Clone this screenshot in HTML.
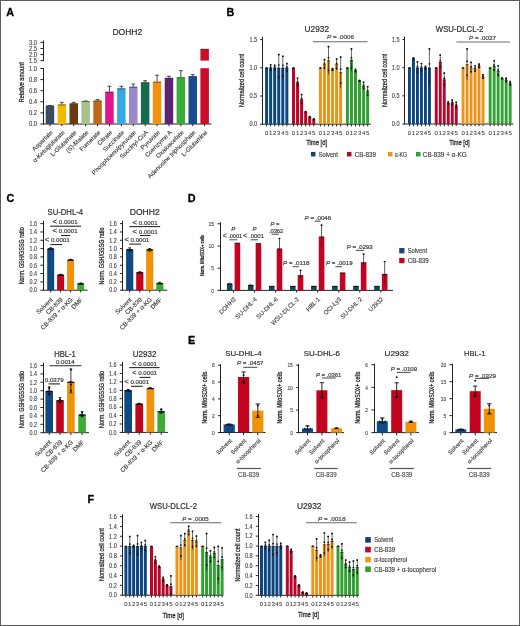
<!DOCTYPE html>
<html><head><meta charset="utf-8"><title>Figure</title>
<style>
html,body{margin:0;padding:0;background:#fff;}
body{width:520px;height:626px;overflow:hidden;}
svg{display:block;will-change:transform;font-family:"Liberation Sans",sans-serif;}
</style></head><body>
<svg width="520" height="626" viewBox="0 0 520 626">
<rect x="0" y="0" width="520" height="626" fill="#fff"/>
<text stroke="#000" stroke-width="0.3" x="6.2" y="15.8" font-size="10.8" fill="#000" font-weight="bold">A</text>
<text stroke="#333" stroke-width="0.22" x="112.5" y="34.8" font-size="8.4" fill="#333" textLength="29.7" lengthAdjust="spacingAndGlyphs">DOHH2</text>
<line x1="43.5" y1="68.2" x2="43.5" y2="124.5" stroke="#222" stroke-width="1"/>
<line x1="40.4" y1="124" x2="43.4" y2="124" stroke="#222" stroke-width="1"/>
<text stroke="#444" stroke-width="0.12" x="37.1" y="126.29" font-size="6.4" text-anchor="end" fill="#444" textLength="8.13" lengthAdjust="spacingAndGlyphs">0.0</text>
<line x1="40.4" y1="112.9" x2="43.4" y2="112.9" stroke="#222" stroke-width="1"/>
<text stroke="#444" stroke-width="0.12" x="37.1" y="115.19" font-size="6.4" text-anchor="end" fill="#444" textLength="8.13" lengthAdjust="spacingAndGlyphs">0.2</text>
<line x1="40.4" y1="101.8" x2="43.4" y2="101.8" stroke="#222" stroke-width="1"/>
<text stroke="#444" stroke-width="0.12" x="37.1" y="104.09" font-size="6.4" text-anchor="end" fill="#444" textLength="8.13" lengthAdjust="spacingAndGlyphs">0.4</text>
<line x1="40.4" y1="90.7" x2="43.4" y2="90.7" stroke="#222" stroke-width="1"/>
<text stroke="#444" stroke-width="0.12" x="37.1" y="92.99" font-size="6.4" text-anchor="end" fill="#444" textLength="8.13" lengthAdjust="spacingAndGlyphs">0.6</text>
<line x1="40.4" y1="79.6" x2="43.4" y2="79.6" stroke="#222" stroke-width="1"/>
<text stroke="#444" stroke-width="0.12" x="37.1" y="81.89" font-size="6.4" text-anchor="end" fill="#444" textLength="8.13" lengthAdjust="spacingAndGlyphs">0.8</text>
<line x1="40.4" y1="68.5" x2="43.4" y2="68.5" stroke="#222" stroke-width="1"/>
<text stroke="#444" stroke-width="0.12" x="37.1" y="70.79" font-size="6.4" text-anchor="end" fill="#444" textLength="8.13" lengthAdjust="spacingAndGlyphs">1.0</text>
<line x1="43.5" y1="40.4" x2="43.5" y2="61.1" stroke="#222" stroke-width="1"/>
<line x1="40.4" y1="60.6" x2="43.4" y2="60.6" stroke="#222" stroke-width="1"/>
<text stroke="#444" stroke-width="0.12" x="37.1" y="62.89" font-size="6.4" text-anchor="end" fill="#444" textLength="8.13" lengthAdjust="spacingAndGlyphs">1.5</text>
<line x1="40.4" y1="54.52" x2="43.4" y2="54.52" stroke="#222" stroke-width="1"/>
<text stroke="#444" stroke-width="0.12" x="37.1" y="56.82" font-size="6.4" text-anchor="end" fill="#444" textLength="8.13" lengthAdjust="spacingAndGlyphs">2.0</text>
<line x1="40.4" y1="48.45" x2="43.4" y2="48.45" stroke="#222" stroke-width="1"/>
<text stroke="#444" stroke-width="0.12" x="37.1" y="50.74" font-size="6.4" text-anchor="end" fill="#444" textLength="8.13" lengthAdjust="spacingAndGlyphs">2.5</text>
<line x1="40.4" y1="42.38" x2="43.4" y2="42.38" stroke="#222" stroke-width="1"/>
<text stroke="#444" stroke-width="0.12" x="37.1" y="44.67" font-size="6.4" text-anchor="end" fill="#444" textLength="8.13" lengthAdjust="spacingAndGlyphs">3.0</text>
<line x1="43.4" y1="124" x2="211.5" y2="124" stroke="#222" stroke-width="1"/>
<text stroke="#2a2a2a" stroke-width="0.3" transform="translate(23.94,82.2) rotate(-90)" font-size="7.6" text-anchor="middle" fill="#2a2a2a" textLength="40" lengthAdjust="spacingAndGlyphs">Relative amount</text>
<line x1="49.95" y1="105.69" x2="49.95" y2="105.41" stroke="#333" stroke-width="0.9"/>
<line x1="48.05" y1="105.41" x2="51.85" y2="105.41" stroke="#333" stroke-width="0.9"/>
<rect x="45.7" y="105.69" width="8.5" height="18.31" fill="#3c4a66"/>
<line x1="46" y1="106.03" x2="53.9" y2="106.03" stroke="#333" stroke-width="0.7"/>
<line x1="49.95" y1="124" x2="49.95" y2="126.2" stroke="#222" stroke-width="1"/>
<text stroke="#3a3a3a" stroke-width="0.12" transform="translate(53.25,132.8) rotate(-45)" font-size="6.2" text-anchor="end" fill="#3a3a3a">Aspartate</text>
<line x1="61.85" y1="104.58" x2="61.85" y2="102.36" stroke="#333" stroke-width="0.9"/>
<line x1="59.95" y1="102.36" x2="63.75" y2="102.36" stroke="#333" stroke-width="0.9"/>
<rect x="57.6" y="104.58" width="8.5" height="19.42" fill="#f5b800"/>
<line x1="57.9" y1="104.92" x2="65.8" y2="104.92" stroke="#333" stroke-width="0.7"/>
<line x1="61.85" y1="124" x2="61.85" y2="126.2" stroke="#222" stroke-width="1"/>
<text stroke="#3a3a3a" stroke-width="0.12" transform="translate(65.15,132.8) rotate(-45)" font-size="6.2" text-anchor="end" fill="#3a3a3a">&#945;-Ketoglutarate</text>
<line x1="73.75" y1="103.47" x2="73.75" y2="102.36" stroke="#333" stroke-width="0.9"/>
<line x1="71.85" y1="102.36" x2="75.65" y2="102.36" stroke="#333" stroke-width="0.9"/>
<rect x="69.5" y="103.47" width="8.5" height="20.53" fill="#6a3a12"/>
<line x1="69.8" y1="103.81" x2="77.7" y2="103.81" stroke="#333" stroke-width="0.7"/>
<line x1="73.75" y1="124" x2="73.75" y2="126.2" stroke="#222" stroke-width="1"/>
<text stroke="#3a3a3a" stroke-width="0.12" transform="translate(77.05,132.8) rotate(-45)" font-size="6.2" text-anchor="end" fill="#3a3a3a">L-Glutamate</text>
<line x1="85.65" y1="101.25" x2="85.65" y2="100.97" stroke="#333" stroke-width="0.9"/>
<line x1="83.75" y1="100.97" x2="87.55" y2="100.97" stroke="#333" stroke-width="0.9"/>
<rect x="81.4" y="101.25" width="8.5" height="22.75" fill="#a6c48a"/>
<line x1="81.7" y1="101.59" x2="89.6" y2="101.59" stroke="#333" stroke-width="0.7"/>
<line x1="85.65" y1="124" x2="85.65" y2="126.2" stroke="#222" stroke-width="1"/>
<text stroke="#3a3a3a" stroke-width="0.12" transform="translate(88.95,132.8) rotate(-45)" font-size="6.2" text-anchor="end" fill="#3a3a3a">(S)-Malate</text>
<line x1="97.55" y1="100.69" x2="97.55" y2="99.58" stroke="#333" stroke-width="0.9"/>
<line x1="95.65" y1="99.58" x2="99.45" y2="99.58" stroke="#333" stroke-width="0.9"/>
<rect x="93.3" y="100.69" width="8.5" height="23.31" fill="#c0681a"/>
<line x1="93.6" y1="101.04" x2="101.5" y2="101.04" stroke="#333" stroke-width="0.7"/>
<line x1="97.55" y1="124" x2="97.55" y2="126.2" stroke="#222" stroke-width="1"/>
<text stroke="#3a3a3a" stroke-width="0.12" transform="translate(100.85,132.8) rotate(-45)" font-size="6.2" text-anchor="end" fill="#3a3a3a">Fumarate</text>
<line x1="109.45" y1="91.81" x2="109.45" y2="86.26" stroke="#333" stroke-width="0.9"/>
<line x1="107.55" y1="86.26" x2="111.35" y2="86.26" stroke="#333" stroke-width="0.9"/>
<rect x="105.2" y="91.81" width="8.5" height="32.19" fill="#e0168a"/>
<line x1="105.5" y1="92.16" x2="113.4" y2="92.16" stroke="#333" stroke-width="0.7"/>
<line x1="109.45" y1="124" x2="109.45" y2="126.2" stroke="#222" stroke-width="1"/>
<text stroke="#3a3a3a" stroke-width="0.12" transform="translate(112.75,132.8) rotate(-45)" font-size="6.2" text-anchor="end" fill="#3a3a3a">Citrate</text>
<line x1="121.35" y1="88.48" x2="121.35" y2="86.26" stroke="#333" stroke-width="0.9"/>
<line x1="119.45" y1="86.26" x2="123.25" y2="86.26" stroke="#333" stroke-width="0.9"/>
<rect x="117.1" y="88.48" width="8.5" height="35.52" fill="#38a8e0"/>
<line x1="117.4" y1="88.83" x2="125.3" y2="88.83" stroke="#333" stroke-width="0.7"/>
<line x1="121.35" y1="124" x2="121.35" y2="126.2" stroke="#222" stroke-width="1"/>
<text stroke="#3a3a3a" stroke-width="0.12" transform="translate(124.65,132.8) rotate(-45)" font-size="6.2" text-anchor="end" fill="#3a3a3a">Succinate</text>
<line x1="133.25" y1="86.81" x2="133.25" y2="84.04" stroke="#333" stroke-width="0.9"/>
<line x1="131.35" y1="84.04" x2="135.15" y2="84.04" stroke="#333" stroke-width="0.9"/>
<rect x="129" y="86.81" width="8.5" height="37.19" fill="#9a88c8"/>
<line x1="129.3" y1="87.16" x2="137.2" y2="87.16" stroke="#333" stroke-width="0.7"/>
<line x1="133.25" y1="124" x2="133.25" y2="126.2" stroke="#222" stroke-width="1"/>
<text stroke="#3a3a3a" stroke-width="0.12" transform="translate(136.55,132.8) rotate(-45)" font-size="6.2" text-anchor="end" fill="#3a3a3a">Phosphoenolpyruvate</text>
<line x1="145.15" y1="82.38" x2="145.15" y2="80.71" stroke="#333" stroke-width="0.9"/>
<line x1="143.25" y1="80.71" x2="147.05" y2="80.71" stroke="#333" stroke-width="0.9"/>
<rect x="140.9" y="82.38" width="8.5" height="41.62" fill="#176b50"/>
<line x1="141.2" y1="82.72" x2="149.1" y2="82.72" stroke="#333" stroke-width="0.7"/>
<line x1="145.15" y1="124" x2="145.15" y2="126.2" stroke="#222" stroke-width="1"/>
<text stroke="#3a3a3a" stroke-width="0.12" transform="translate(148.45,132.8) rotate(-45)" font-size="6.2" text-anchor="end" fill="#3a3a3a">Succinyl-CoA</text>
<line x1="157.05" y1="81.82" x2="157.05" y2="75.16" stroke="#333" stroke-width="0.9"/>
<line x1="155.15" y1="75.16" x2="158.95" y2="75.16" stroke="#333" stroke-width="0.9"/>
<rect x="152.8" y="81.82" width="8.5" height="42.18" fill="#f59010"/>
<line x1="153.1" y1="82.17" x2="161" y2="82.17" stroke="#333" stroke-width="0.7"/>
<line x1="157.05" y1="124" x2="157.05" y2="126.2" stroke="#222" stroke-width="1"/>
<text stroke="#3a3a3a" stroke-width="0.12" transform="translate(160.35,132.8) rotate(-45)" font-size="6.2" text-anchor="end" fill="#3a3a3a">Pyruvate</text>
<line x1="168.95" y1="77.94" x2="168.95" y2="76.27" stroke="#333" stroke-width="0.9"/>
<line x1="167.05" y1="76.27" x2="170.85" y2="76.27" stroke="#333" stroke-width="0.9"/>
<rect x="164.7" y="77.94" width="8.5" height="46.06" fill="#5c2270"/>
<line x1="165" y1="78.28" x2="172.9" y2="78.28" stroke="#333" stroke-width="0.7"/>
<line x1="168.95" y1="124" x2="168.95" y2="126.2" stroke="#222" stroke-width="1"/>
<text stroke="#3a3a3a" stroke-width="0.12" transform="translate(172.25,132.8) rotate(-45)" font-size="6.2" text-anchor="end" fill="#3a3a3a">Coenzyme A</text>
<line x1="180.85" y1="77.38" x2="180.85" y2="70.72" stroke="#333" stroke-width="0.9"/>
<line x1="178.95" y1="70.72" x2="182.75" y2="70.72" stroke="#333" stroke-width="0.9"/>
<rect x="176.6" y="77.38" width="8.5" height="46.62" fill="#3aaa3a"/>
<line x1="176.9" y1="77.73" x2="184.8" y2="77.73" stroke="#333" stroke-width="0.7"/>
<line x1="180.85" y1="124" x2="180.85" y2="126.2" stroke="#222" stroke-width="1"/>
<text stroke="#3a3a3a" stroke-width="0.12" transform="translate(184.15,132.8) rotate(-45)" font-size="6.2" text-anchor="end" fill="#3a3a3a">Oxaloacetate</text>
<line x1="192.75" y1="76.27" x2="192.75" y2="74.6" stroke="#333" stroke-width="0.9"/>
<line x1="190.85" y1="74.6" x2="194.65" y2="74.6" stroke="#333" stroke-width="0.9"/>
<rect x="188.5" y="76.27" width="8.5" height="47.73" fill="#1a4c8c"/>
<line x1="188.8" y1="76.62" x2="196.7" y2="76.62" stroke="#333" stroke-width="0.7"/>
<line x1="192.75" y1="124" x2="192.75" y2="126.2" stroke="#222" stroke-width="1"/>
<text stroke="#3a3a3a" stroke-width="0.12" transform="translate(196.05,132.8) rotate(-45)" font-size="6.2" text-anchor="end" fill="#3a3a3a">Adenosine triphosphate</text>
<rect x="200.4" y="68.2" width="8.5" height="55.8" fill="#cc0a2a"/>
<rect x="200.4" y="49.06" width="8.5" height="11.54" fill="#cc0a2a"/>
<line x1="200.9" y1="49.26" x2="208.4" y2="49.26" stroke="#333" stroke-width="0.8"/>
<line x1="204.65" y1="124" x2="204.65" y2="126.2" stroke="#222" stroke-width="1"/>
<text stroke="#3a3a3a" stroke-width="0.12" transform="translate(207.95,132.8) rotate(-45)" font-size="6.2" text-anchor="end" fill="#3a3a3a">L-Glutamine</text>
<text stroke="#000" stroke-width="0.3" x="226.6" y="15.8" font-size="10.8" fill="#000" font-weight="bold">B</text>
<line x1="262.5" y1="36.7" x2="262.5" y2="124.7" stroke="#222" stroke-width="1"/>
<line x1="260.1" y1="124.2" x2="262.5" y2="124.2" stroke="#222" stroke-width="1"/>
<text stroke="#444" stroke-width="0.12" x="257.2" y="126.49" font-size="6.4" text-anchor="end" fill="#444" textLength="7.78" lengthAdjust="spacingAndGlyphs">0.0</text>
<line x1="260.1" y1="96" x2="262.5" y2="96" stroke="#222" stroke-width="1"/>
<text stroke="#444" stroke-width="0.12" x="257.2" y="98.29" font-size="6.4" text-anchor="end" fill="#444" textLength="7.78" lengthAdjust="spacingAndGlyphs">0.5</text>
<line x1="260.1" y1="67.8" x2="262.5" y2="67.8" stroke="#222" stroke-width="1"/>
<text stroke="#444" stroke-width="0.12" x="257.2" y="70.09" font-size="6.4" text-anchor="end" fill="#444" textLength="7.78" lengthAdjust="spacingAndGlyphs">1.0</text>
<line x1="260.1" y1="39.6" x2="262.5" y2="39.6" stroke="#222" stroke-width="1"/>
<text stroke="#444" stroke-width="0.12" x="257.2" y="41.89" font-size="6.4" text-anchor="end" fill="#444" textLength="7.78" lengthAdjust="spacingAndGlyphs">1.5</text>
<line x1="262.5" y1="124.2" x2="370.8" y2="124.2" stroke="#222" stroke-width="1"/>
<rect x="265.1" y="67.8" width="3" height="56.4" fill="#0c4680"/>
<circle cx="266.6" cy="68" r="0.9" fill="#111"/>
<line x1="265.25" y1="68.15" x2="267.95" y2="68.15" stroke="#1a1a1a" stroke-width="0.7"/>
<line x1="266.6" y1="124.2" x2="266.6" y2="126.4" stroke="#222" stroke-width="1"/>
<text stroke="#3a3a3a" stroke-width="0.08" x="266.6" y="134.6" font-size="6" text-anchor="middle" fill="#3a3a3a">0</text>
<rect x="269.15" y="67.8" width="3" height="56.4" fill="#0c4680"/>
<line x1="270.65" y1="71.18" x2="270.65" y2="64.42" stroke="#2a2a2a" stroke-width="0.7"/>
<line x1="269.85" y1="64.42" x2="271.45" y2="64.42" stroke="#1a1a1a" stroke-width="0.6"/>
<circle cx="270.65" cy="64.82" r="0.9" fill="#111"/>
<circle cx="270.65" cy="70.17" r="0.9" fill="#111"/>
<circle cx="270.65" cy="67.12" r="0.9" fill="#111"/>
<line x1="269.3" y1="68.15" x2="272" y2="68.15" stroke="#1a1a1a" stroke-width="0.7"/>
<line x1="270.65" y1="124.2" x2="270.65" y2="126.4" stroke="#222" stroke-width="1"/>
<text stroke="#3a3a3a" stroke-width="0.08" x="270.65" y="134.6" font-size="6" text-anchor="middle" fill="#3a3a3a">1</text>
<rect x="273.2" y="67.8" width="3" height="56.4" fill="#0c4680"/>
<line x1="274.7" y1="70.62" x2="274.7" y2="64.98" stroke="#2a2a2a" stroke-width="0.7"/>
<line x1="273.9" y1="64.98" x2="275.5" y2="64.98" stroke="#1a1a1a" stroke-width="0.6"/>
<circle cx="274.7" cy="65.38" r="0.9" fill="#111"/>
<circle cx="274.7" cy="69.77" r="0.9" fill="#111"/>
<circle cx="274.7" cy="67.24" r="0.9" fill="#111"/>
<line x1="273.35" y1="68.15" x2="276.05" y2="68.15" stroke="#1a1a1a" stroke-width="0.7"/>
<line x1="274.7" y1="124.2" x2="274.7" y2="126.4" stroke="#222" stroke-width="1"/>
<text stroke="#3a3a3a" stroke-width="0.08" x="274.7" y="134.6" font-size="6" text-anchor="middle" fill="#3a3a3a">2</text>
<rect x="277.25" y="67.8" width="3" height="56.4" fill="#0c4680"/>
<line x1="278.75" y1="81.34" x2="278.75" y2="54.26" stroke="#2a2a2a" stroke-width="0.7"/>
<line x1="277.95" y1="54.26" x2="279.55" y2="54.26" stroke="#1a1a1a" stroke-width="0.6"/>
<circle cx="278.75" cy="54.66" r="0.9" fill="#111"/>
<circle cx="278.75" cy="77.28" r="0.9" fill="#111"/>
<circle cx="278.75" cy="65.09" r="0.9" fill="#111"/>
<line x1="277.4" y1="68.15" x2="280.1" y2="68.15" stroke="#1a1a1a" stroke-width="0.7"/>
<line x1="278.75" y1="124.2" x2="278.75" y2="126.4" stroke="#222" stroke-width="1"/>
<text stroke="#3a3a3a" stroke-width="0.08" x="278.75" y="134.6" font-size="6" text-anchor="middle" fill="#3a3a3a">3</text>
<rect x="281.3" y="67.8" width="3" height="56.4" fill="#0c4680"/>
<line x1="282.8" y1="79.64" x2="282.8" y2="55.96" stroke="#2a2a2a" stroke-width="0.7"/>
<line x1="282" y1="55.96" x2="283.6" y2="55.96" stroke="#1a1a1a" stroke-width="0.6"/>
<circle cx="282.8" cy="56.36" r="0.9" fill="#111"/>
<circle cx="282.8" cy="76.09" r="0.9" fill="#111"/>
<circle cx="282.8" cy="65.43" r="0.9" fill="#111"/>
<line x1="281.45" y1="68.15" x2="284.15" y2="68.15" stroke="#1a1a1a" stroke-width="0.7"/>
<line x1="282.8" y1="124.2" x2="282.8" y2="126.4" stroke="#222" stroke-width="1"/>
<text stroke="#3a3a3a" stroke-width="0.08" x="282.8" y="134.6" font-size="6" text-anchor="middle" fill="#3a3a3a">4</text>
<rect x="285.35" y="67.8" width="3" height="56.4" fill="#0c4680"/>
<line x1="286.85" y1="72.31" x2="286.85" y2="63.29" stroke="#2a2a2a" stroke-width="0.7"/>
<line x1="286.05" y1="63.29" x2="287.65" y2="63.29" stroke="#1a1a1a" stroke-width="0.6"/>
<circle cx="286.85" cy="63.69" r="0.9" fill="#111"/>
<circle cx="286.85" cy="70.96" r="0.9" fill="#111"/>
<circle cx="286.85" cy="66.9" r="0.9" fill="#111"/>
<line x1="285.5" y1="68.15" x2="288.2" y2="68.15" stroke="#1a1a1a" stroke-width="0.7"/>
<line x1="286.85" y1="124.2" x2="286.85" y2="126.4" stroke="#222" stroke-width="1"/>
<text stroke="#3a3a3a" stroke-width="0.08" x="286.85" y="134.6" font-size="6" text-anchor="middle" fill="#3a3a3a">5</text>
<rect x="292" y="67.8" width="3" height="56.4" fill="#b8072a"/>
<circle cx="293.5" cy="68" r="0.9" fill="#111"/>
<line x1="292.15" y1="68.15" x2="294.85" y2="68.15" stroke="#1a1a1a" stroke-width="0.7"/>
<line x1="293.5" y1="124.2" x2="293.5" y2="126.4" stroke="#222" stroke-width="1"/>
<text stroke="#3a3a3a" stroke-width="0.08" x="293.5" y="134.6" font-size="6" text-anchor="middle" fill="#3a3a3a">0</text>
<rect x="296.05" y="82.46" width="3" height="41.74" fill="#b8072a"/>
<line x1="297.55" y1="86.98" x2="297.55" y2="77.95" stroke="#2a2a2a" stroke-width="0.7"/>
<line x1="296.75" y1="77.95" x2="298.35" y2="77.95" stroke="#1a1a1a" stroke-width="0.6"/>
<circle cx="297.55" cy="78.35" r="0.9" fill="#111"/>
<circle cx="297.55" cy="85.62" r="0.9" fill="#111"/>
<circle cx="297.55" cy="81.56" r="0.9" fill="#111"/>
<line x1="296.2" y1="82.81" x2="298.9" y2="82.81" stroke="#1a1a1a" stroke-width="0.7"/>
<line x1="297.55" y1="124.2" x2="297.55" y2="126.4" stroke="#222" stroke-width="1"/>
<text stroke="#3a3a3a" stroke-width="0.08" x="297.55" y="134.6" font-size="6" text-anchor="middle" fill="#3a3a3a">1</text>
<rect x="300.1" y="99.38" width="3" height="24.82" fill="#b8072a"/>
<line x1="301.6" y1="104.46" x2="301.6" y2="94.31" stroke="#2a2a2a" stroke-width="0.7"/>
<line x1="300.8" y1="94.31" x2="302.4" y2="94.31" stroke="#1a1a1a" stroke-width="0.6"/>
<circle cx="301.6" cy="94.71" r="0.9" fill="#111"/>
<circle cx="301.6" cy="102.94" r="0.9" fill="#111"/>
<circle cx="301.6" cy="98.37" r="0.9" fill="#111"/>
<line x1="300.25" y1="99.73" x2="302.95" y2="99.73" stroke="#1a1a1a" stroke-width="0.7"/>
<line x1="301.6" y1="124.2" x2="301.6" y2="126.4" stroke="#222" stroke-width="1"/>
<text stroke="#3a3a3a" stroke-width="0.08" x="301.6" y="134.6" font-size="6" text-anchor="middle" fill="#3a3a3a">2</text>
<rect x="304.15" y="111.51" width="3" height="12.69" fill="#b8072a"/>
<circle cx="305.65" cy="111.71" r="0.9" fill="#111"/>
<line x1="304.3" y1="111.86" x2="307" y2="111.86" stroke="#1a1a1a" stroke-width="0.7"/>
<line x1="305.65" y1="124.2" x2="305.65" y2="126.4" stroke="#222" stroke-width="1"/>
<text stroke="#3a3a3a" stroke-width="0.08" x="305.65" y="134.6" font-size="6" text-anchor="middle" fill="#3a3a3a">3</text>
<rect x="308.2" y="116.92" width="3" height="7.28" fill="#b8072a"/>
<line x1="309.7" y1="117.54" x2="309.7" y2="116.3" stroke="#2a2a2a" stroke-width="0.7"/>
<line x1="308.9" y1="116.3" x2="310.5" y2="116.3" stroke="#1a1a1a" stroke-width="0.6"/>
<circle cx="309.7" cy="116.7" r="0.9" fill="#111"/>
<circle cx="309.7" cy="117.36" r="0.9" fill="#111"/>
<circle cx="309.7" cy="116.8" r="0.9" fill="#111"/>
<line x1="308.35" y1="117.27" x2="311.05" y2="117.27" stroke="#1a1a1a" stroke-width="0.7"/>
<line x1="309.7" y1="124.2" x2="309.7" y2="126.4" stroke="#222" stroke-width="1"/>
<text stroke="#3a3a3a" stroke-width="0.08" x="309.7" y="134.6" font-size="6" text-anchor="middle" fill="#3a3a3a">4</text>
<rect x="312.25" y="119.24" width="3" height="4.96" fill="#b8072a"/>
<line x1="313.75" y1="119.91" x2="313.75" y2="118.56" stroke="#2a2a2a" stroke-width="0.7"/>
<line x1="312.95" y1="118.56" x2="314.55" y2="118.56" stroke="#1a1a1a" stroke-width="0.6"/>
<circle cx="313.75" cy="118.96" r="0.9" fill="#111"/>
<circle cx="313.75" cy="119.71" r="0.9" fill="#111"/>
<circle cx="313.75" cy="119.1" r="0.9" fill="#111"/>
<line x1="312.4" y1="119.59" x2="315.1" y2="119.59" stroke="#1a1a1a" stroke-width="0.7"/>
<line x1="313.75" y1="124.2" x2="313.75" y2="126.4" stroke="#222" stroke-width="1"/>
<text stroke="#3a3a3a" stroke-width="0.08" x="313.75" y="134.6" font-size="6" text-anchor="middle" fill="#3a3a3a">5</text>
<rect x="318.9" y="67.8" width="3" height="56.4" fill="#ee9418"/>
<circle cx="320.4" cy="68" r="0.9" fill="#111"/>
<line x1="319.05" y1="68.15" x2="321.75" y2="68.15" stroke="#1a1a1a" stroke-width="0.7"/>
<line x1="320.4" y1="124.2" x2="320.4" y2="126.4" stroke="#222" stroke-width="1"/>
<text stroke="#3a3a3a" stroke-width="0.08" x="320.4" y="134.6" font-size="6" text-anchor="middle" fill="#3a3a3a">0</text>
<rect x="322.95" y="64.42" width="3" height="59.78" fill="#ee9418"/>
<line x1="324.45" y1="69.49" x2="324.45" y2="59.34" stroke="#2a2a2a" stroke-width="0.7"/>
<line x1="323.65" y1="59.34" x2="325.25" y2="59.34" stroke="#1a1a1a" stroke-width="0.6"/>
<circle cx="324.45" cy="59.74" r="0.9" fill="#111"/>
<circle cx="324.45" cy="67.97" r="0.9" fill="#111"/>
<circle cx="324.45" cy="63.4" r="0.9" fill="#111"/>
<line x1="323.1" y1="64.77" x2="325.8" y2="64.77" stroke="#1a1a1a" stroke-width="0.7"/>
<line x1="324.45" y1="124.2" x2="324.45" y2="126.4" stroke="#222" stroke-width="1"/>
<text stroke="#3a3a3a" stroke-width="0.08" x="324.45" y="134.6" font-size="6" text-anchor="middle" fill="#3a3a3a">1</text>
<rect x="327" y="60.47" width="3" height="63.73" fill="#ee9418"/>
<line x1="328.5" y1="74.57" x2="328.5" y2="46.37" stroke="#2a2a2a" stroke-width="0.7"/>
<line x1="327.7" y1="46.37" x2="329.3" y2="46.37" stroke="#1a1a1a" stroke-width="0.6"/>
<circle cx="328.5" cy="46.77" r="0.9" fill="#111"/>
<circle cx="328.5" cy="70.34" r="0.9" fill="#111"/>
<circle cx="328.5" cy="57.65" r="0.9" fill="#111"/>
<line x1="327.15" y1="60.82" x2="329.85" y2="60.82" stroke="#1a1a1a" stroke-width="0.7"/>
<line x1="328.5" y1="124.2" x2="328.5" y2="126.4" stroke="#222" stroke-width="1"/>
<text stroke="#3a3a3a" stroke-width="0.08" x="328.5" y="134.6" font-size="6" text-anchor="middle" fill="#3a3a3a">2</text>
<rect x="331.05" y="69.49" width="3" height="54.71" fill="#ee9418"/>
<line x1="332.55" y1="70.62" x2="332.55" y2="68.36" stroke="#2a2a2a" stroke-width="0.7"/>
<line x1="331.75" y1="68.36" x2="333.35" y2="68.36" stroke="#1a1a1a" stroke-width="0.6"/>
<circle cx="332.55" cy="68.76" r="0.9" fill="#111"/>
<circle cx="332.55" cy="70.28" r="0.9" fill="#111"/>
<circle cx="332.55" cy="69.27" r="0.9" fill="#111"/>
<line x1="331.2" y1="69.84" x2="333.9" y2="69.84" stroke="#1a1a1a" stroke-width="0.7"/>
<line x1="332.55" y1="124.2" x2="332.55" y2="126.4" stroke="#222" stroke-width="1"/>
<text stroke="#3a3a3a" stroke-width="0.08" x="332.55" y="134.6" font-size="6" text-anchor="middle" fill="#3a3a3a">3</text>
<rect x="335.1" y="64.42" width="3" height="59.78" fill="#ee9418"/>
<line x1="336.6" y1="70.06" x2="336.6" y2="58.78" stroke="#2a2a2a" stroke-width="0.7"/>
<line x1="335.8" y1="58.78" x2="337.4" y2="58.78" stroke="#1a1a1a" stroke-width="0.6"/>
<circle cx="336.6" cy="59.18" r="0.9" fill="#111"/>
<circle cx="336.6" cy="68.36" r="0.9" fill="#111"/>
<circle cx="336.6" cy="63.29" r="0.9" fill="#111"/>
<line x1="335.25" y1="64.77" x2="337.95" y2="64.77" stroke="#1a1a1a" stroke-width="0.7"/>
<line x1="336.6" y1="124.2" x2="336.6" y2="126.4" stroke="#222" stroke-width="1"/>
<text stroke="#3a3a3a" stroke-width="0.08" x="336.6" y="134.6" font-size="6" text-anchor="middle" fill="#3a3a3a">4</text>
<rect x="339.15" y="72.31" width="3" height="51.89" fill="#ee9418"/>
<line x1="340.65" y1="87.82" x2="340.65" y2="56.8" stroke="#2a2a2a" stroke-width="0.7"/>
<line x1="339.85" y1="56.8" x2="341.45" y2="56.8" stroke="#1a1a1a" stroke-width="0.6"/>
<circle cx="340.65" cy="57.2" r="0.9" fill="#111"/>
<circle cx="340.65" cy="83.17" r="0.9" fill="#111"/>
<circle cx="340.65" cy="69.21" r="0.9" fill="#111"/>
<line x1="339.3" y1="72.66" x2="342" y2="72.66" stroke="#1a1a1a" stroke-width="0.7"/>
<line x1="340.65" y1="124.2" x2="340.65" y2="126.4" stroke="#222" stroke-width="1"/>
<text stroke="#3a3a3a" stroke-width="0.08" x="340.65" y="134.6" font-size="6" text-anchor="middle" fill="#3a3a3a">5</text>
<rect x="345.9" y="67.8" width="3" height="56.4" fill="#32a034"/>
<circle cx="347.4" cy="68" r="0.9" fill="#111"/>
<line x1="346.05" y1="68.15" x2="348.75" y2="68.15" stroke="#1a1a1a" stroke-width="0.7"/>
<line x1="347.4" y1="124.2" x2="347.4" y2="126.4" stroke="#222" stroke-width="1"/>
<text stroke="#3a3a3a" stroke-width="0.08" x="347.4" y="134.6" font-size="6" text-anchor="middle" fill="#3a3a3a">0</text>
<rect x="349.95" y="59.9" width="3" height="64.3" fill="#32a034"/>
<line x1="351.45" y1="71.18" x2="351.45" y2="48.62" stroke="#2a2a2a" stroke-width="0.7"/>
<line x1="350.65" y1="48.62" x2="352.25" y2="48.62" stroke="#1a1a1a" stroke-width="0.6"/>
<circle cx="351.45" cy="49.02" r="0.9" fill="#111"/>
<circle cx="351.45" cy="67.8" r="0.9" fill="#111"/>
<circle cx="351.45" cy="57.65" r="0.9" fill="#111"/>
<line x1="350.1" y1="60.25" x2="352.8" y2="60.25" stroke="#1a1a1a" stroke-width="0.7"/>
<line x1="351.45" y1="124.2" x2="351.45" y2="126.4" stroke="#222" stroke-width="1"/>
<text stroke="#3a3a3a" stroke-width="0.08" x="351.45" y="134.6" font-size="6" text-anchor="middle" fill="#3a3a3a">1</text>
<rect x="354" y="70.62" width="3" height="53.58" fill="#32a034"/>
<line x1="355.5" y1="72.31" x2="355.5" y2="68.93" stroke="#2a2a2a" stroke-width="0.7"/>
<line x1="354.7" y1="68.93" x2="356.3" y2="68.93" stroke="#1a1a1a" stroke-width="0.6"/>
<circle cx="355.5" cy="69.33" r="0.9" fill="#111"/>
<circle cx="355.5" cy="71.8" r="0.9" fill="#111"/>
<circle cx="355.5" cy="70.28" r="0.9" fill="#111"/>
<line x1="354.15" y1="70.97" x2="356.85" y2="70.97" stroke="#1a1a1a" stroke-width="0.7"/>
<line x1="355.5" y1="124.2" x2="355.5" y2="126.4" stroke="#222" stroke-width="1"/>
<text stroke="#3a3a3a" stroke-width="0.08" x="355.5" y="134.6" font-size="6" text-anchor="middle" fill="#3a3a3a">2</text>
<rect x="358.05" y="80.77" width="3" height="43.43" fill="#32a034"/>
<line x1="359.55" y1="81.34" x2="359.55" y2="80.21" stroke="#2a2a2a" stroke-width="0.7"/>
<line x1="358.75" y1="80.21" x2="360.35" y2="80.21" stroke="#1a1a1a" stroke-width="0.6"/>
<circle cx="359.55" cy="80.61" r="0.9" fill="#111"/>
<circle cx="359.55" cy="81.17" r="0.9" fill="#111"/>
<circle cx="359.55" cy="80.66" r="0.9" fill="#111"/>
<line x1="358.2" y1="81.12" x2="360.9" y2="81.12" stroke="#1a1a1a" stroke-width="0.7"/>
<line x1="359.55" y1="124.2" x2="359.55" y2="126.4" stroke="#222" stroke-width="1"/>
<text stroke="#3a3a3a" stroke-width="0.08" x="359.55" y="134.6" font-size="6" text-anchor="middle" fill="#3a3a3a">3</text>
<rect x="362.1" y="85.85" width="3" height="38.35" fill="#32a034"/>
<line x1="363.6" y1="89.8" x2="363.6" y2="81.9" stroke="#2a2a2a" stroke-width="0.7"/>
<line x1="362.8" y1="81.9" x2="364.4" y2="81.9" stroke="#1a1a1a" stroke-width="0.6"/>
<circle cx="363.6" cy="82.3" r="0.9" fill="#111"/>
<circle cx="363.6" cy="88.61" r="0.9" fill="#111"/>
<circle cx="363.6" cy="85.06" r="0.9" fill="#111"/>
<line x1="362.25" y1="86.2" x2="364.95" y2="86.2" stroke="#1a1a1a" stroke-width="0.7"/>
<line x1="363.6" y1="124.2" x2="363.6" y2="126.4" stroke="#222" stroke-width="1"/>
<text stroke="#3a3a3a" stroke-width="0.08" x="363.6" y="134.6" font-size="6" text-anchor="middle" fill="#3a3a3a">4</text>
<rect x="366.15" y="91.49" width="3" height="32.71" fill="#32a034"/>
<line x1="367.65" y1="96.56" x2="367.65" y2="86.41" stroke="#2a2a2a" stroke-width="0.7"/>
<line x1="366.85" y1="86.41" x2="368.45" y2="86.41" stroke="#1a1a1a" stroke-width="0.6"/>
<circle cx="367.65" cy="86.81" r="0.9" fill="#111"/>
<circle cx="367.65" cy="95.04" r="0.9" fill="#111"/>
<circle cx="367.65" cy="90.47" r="0.9" fill="#111"/>
<line x1="366.3" y1="91.84" x2="369" y2="91.84" stroke="#1a1a1a" stroke-width="0.7"/>
<line x1="367.65" y1="124.2" x2="367.65" y2="126.4" stroke="#222" stroke-width="1"/>
<text stroke="#3a3a3a" stroke-width="0.08" x="367.65" y="134.6" font-size="6" text-anchor="middle" fill="#3a3a3a">5</text>
<text stroke="#333" stroke-width="0.22" x="304.6" y="32" font-size="8.2" fill="#333" textLength="24.4" lengthAdjust="spacingAndGlyphs">U2932</text>
<line x1="313" y1="41.7" x2="367.5" y2="41.7" stroke="#6a6a6a" stroke-width="1.1"/>
<text stroke="#4a4a4a" stroke-width="0.22" x="327" y="39.3" font-size="5.9" fill="#4a4a4a" textLength="27" lengthAdjust="spacingAndGlyphs"><tspan font-style="italic">P</tspan> = .0006</text>
<text stroke="#2a2a2a" stroke-width="0.3" x="306.2" y="145.4" font-size="8" fill="#2a2a2a" textLength="20.9" lengthAdjust="spacingAndGlyphs">Time [d]</text>
<text stroke="#2a2a2a" stroke-width="0.3" transform="translate(243.74,80.5) rotate(-90)" font-size="7.6" text-anchor="middle" fill="#2a2a2a" textLength="53" lengthAdjust="spacingAndGlyphs">Normalized cell count</text>
<line x1="404.5" y1="36.65" x2="404.5" y2="124.5" stroke="#222" stroke-width="1"/>
<line x1="402.4" y1="124" x2="404.8" y2="124" stroke="#222" stroke-width="1"/>
<text stroke="#444" stroke-width="0.12" x="399.5" y="126.29" font-size="6.4" text-anchor="end" fill="#444" textLength="7.78" lengthAdjust="spacingAndGlyphs">0.0</text>
<line x1="402.4" y1="95.85" x2="404.8" y2="95.85" stroke="#222" stroke-width="1"/>
<text stroke="#444" stroke-width="0.12" x="399.5" y="98.14" font-size="6.4" text-anchor="end" fill="#444" textLength="7.78" lengthAdjust="spacingAndGlyphs">0.5</text>
<line x1="402.4" y1="67.7" x2="404.8" y2="67.7" stroke="#222" stroke-width="1"/>
<text stroke="#444" stroke-width="0.12" x="399.5" y="69.99" font-size="6.4" text-anchor="end" fill="#444" textLength="7.78" lengthAdjust="spacingAndGlyphs">1.0</text>
<line x1="402.4" y1="39.55" x2="404.8" y2="39.55" stroke="#222" stroke-width="1"/>
<text stroke="#444" stroke-width="0.12" x="399.5" y="41.84" font-size="6.4" text-anchor="end" fill="#444" textLength="7.78" lengthAdjust="spacingAndGlyphs">1.5</text>
<line x1="404.8" y1="124" x2="513.3" y2="124" stroke="#222" stroke-width="1"/>
<rect x="408" y="67.7" width="2.9" height="56.3" fill="#0c4680"/>
<circle cx="409.45" cy="67.9" r="0.9" fill="#111"/>
<line x1="408.15" y1="68.05" x2="410.75" y2="68.05" stroke="#1a1a1a" stroke-width="0.7"/>
<line x1="409.45" y1="124" x2="409.45" y2="126.2" stroke="#222" stroke-width="1"/>
<text stroke="#3a3a3a" stroke-width="0.08" x="409.45" y="134.6" font-size="6" text-anchor="middle" fill="#3a3a3a">0</text>
<rect x="412" y="58.69" width="2.9" height="65.31" fill="#0c4680"/>
<line x1="413.45" y1="59.82" x2="413.45" y2="57.57" stroke="#2a2a2a" stroke-width="0.7"/>
<line x1="412.65" y1="57.57" x2="414.25" y2="57.57" stroke="#1a1a1a" stroke-width="0.6"/>
<circle cx="413.45" cy="57.97" r="0.9" fill="#111"/>
<circle cx="413.45" cy="59.48" r="0.9" fill="#111"/>
<circle cx="413.45" cy="58.47" r="0.9" fill="#111"/>
<line x1="412.15" y1="59.04" x2="414.75" y2="59.04" stroke="#1a1a1a" stroke-width="0.7"/>
<line x1="413.45" y1="124" x2="413.45" y2="126.2" stroke="#222" stroke-width="1"/>
<text stroke="#3a3a3a" stroke-width="0.08" x="413.45" y="134.6" font-size="6" text-anchor="middle" fill="#3a3a3a">1</text>
<rect x="416" y="67.7" width="2.9" height="56.3" fill="#0c4680"/>
<line x1="417.45" y1="73.89" x2="417.45" y2="61.51" stroke="#2a2a2a" stroke-width="0.7"/>
<line x1="416.65" y1="61.51" x2="418.25" y2="61.51" stroke="#1a1a1a" stroke-width="0.6"/>
<circle cx="417.45" cy="61.91" r="0.9" fill="#111"/>
<circle cx="417.45" cy="72.04" r="0.9" fill="#111"/>
<circle cx="417.45" cy="66.46" r="0.9" fill="#111"/>
<line x1="416.15" y1="68.05" x2="418.75" y2="68.05" stroke="#1a1a1a" stroke-width="0.7"/>
<line x1="417.45" y1="124" x2="417.45" y2="126.2" stroke="#222" stroke-width="1"/>
<text stroke="#3a3a3a" stroke-width="0.08" x="417.45" y="134.6" font-size="6" text-anchor="middle" fill="#3a3a3a">2</text>
<rect x="420" y="67.7" width="2.9" height="56.3" fill="#0c4680"/>
<line x1="421.45" y1="72.2" x2="421.45" y2="63.2" stroke="#2a2a2a" stroke-width="0.7"/>
<line x1="420.65" y1="63.2" x2="422.25" y2="63.2" stroke="#1a1a1a" stroke-width="0.6"/>
<circle cx="421.45" cy="63.6" r="0.9" fill="#111"/>
<circle cx="421.45" cy="70.85" r="0.9" fill="#111"/>
<circle cx="421.45" cy="66.8" r="0.9" fill="#111"/>
<line x1="420.15" y1="68.05" x2="422.75" y2="68.05" stroke="#1a1a1a" stroke-width="0.7"/>
<line x1="421.45" y1="124" x2="421.45" y2="126.2" stroke="#222" stroke-width="1"/>
<text stroke="#3a3a3a" stroke-width="0.08" x="421.45" y="134.6" font-size="6" text-anchor="middle" fill="#3a3a3a">3</text>
<rect x="424" y="67.7" width="2.9" height="56.3" fill="#0c4680"/>
<line x1="425.45" y1="69.39" x2="425.45" y2="66.01" stroke="#2a2a2a" stroke-width="0.7"/>
<line x1="424.65" y1="66.01" x2="426.25" y2="66.01" stroke="#1a1a1a" stroke-width="0.6"/>
<circle cx="425.45" cy="66.41" r="0.9" fill="#111"/>
<circle cx="425.45" cy="68.88" r="0.9" fill="#111"/>
<circle cx="425.45" cy="67.36" r="0.9" fill="#111"/>
<line x1="424.15" y1="68.05" x2="426.75" y2="68.05" stroke="#1a1a1a" stroke-width="0.7"/>
<line x1="425.45" y1="124" x2="425.45" y2="126.2" stroke="#222" stroke-width="1"/>
<text stroke="#3a3a3a" stroke-width="0.08" x="425.45" y="134.6" font-size="6" text-anchor="middle" fill="#3a3a3a">4</text>
<rect x="428" y="67.7" width="2.9" height="56.3" fill="#0c4680"/>
<line x1="429.45" y1="86.84" x2="429.45" y2="48.56" stroke="#2a2a2a" stroke-width="0.7"/>
<line x1="428.65" y1="48.56" x2="430.25" y2="48.56" stroke="#1a1a1a" stroke-width="0.6"/>
<circle cx="429.45" cy="48.96" r="0.9" fill="#111"/>
<circle cx="429.45" cy="81.1" r="0.9" fill="#111"/>
<circle cx="429.45" cy="63.87" r="0.9" fill="#111"/>
<line x1="428.15" y1="68.05" x2="430.75" y2="68.05" stroke="#1a1a1a" stroke-width="0.7"/>
<line x1="429.45" y1="124" x2="429.45" y2="126.2" stroke="#222" stroke-width="1"/>
<text stroke="#3a3a3a" stroke-width="0.08" x="429.45" y="134.6" font-size="6" text-anchor="middle" fill="#3a3a3a">5</text>
<rect x="434.8" y="67.7" width="2.9" height="56.3" fill="#b8072a"/>
<circle cx="436.25" cy="67.9" r="0.9" fill="#111"/>
<line x1="434.95" y1="68.05" x2="437.55" y2="68.05" stroke="#1a1a1a" stroke-width="0.7"/>
<line x1="436.25" y1="124" x2="436.25" y2="126.2" stroke="#222" stroke-width="1"/>
<text stroke="#3a3a3a" stroke-width="0.08" x="436.25" y="134.6" font-size="6" text-anchor="middle" fill="#3a3a3a">0</text>
<rect x="438.8" y="62.07" width="2.9" height="61.93" fill="#b8072a"/>
<line x1="440.25" y1="69.39" x2="440.25" y2="54.75" stroke="#2a2a2a" stroke-width="0.7"/>
<line x1="439.45" y1="54.75" x2="441.05" y2="54.75" stroke="#1a1a1a" stroke-width="0.6"/>
<circle cx="440.25" cy="55.15" r="0.9" fill="#111"/>
<circle cx="440.25" cy="67.19" r="0.9" fill="#111"/>
<circle cx="440.25" cy="60.61" r="0.9" fill="#111"/>
<line x1="438.95" y1="62.42" x2="441.55" y2="62.42" stroke="#1a1a1a" stroke-width="0.7"/>
<line x1="440.25" y1="124" x2="440.25" y2="126.2" stroke="#222" stroke-width="1"/>
<text stroke="#3a3a3a" stroke-width="0.08" x="440.25" y="134.6" font-size="6" text-anchor="middle" fill="#3a3a3a">1</text>
<rect x="442.8" y="79.52" width="2.9" height="44.48" fill="#b8072a"/>
<line x1="444.25" y1="86.28" x2="444.25" y2="72.77" stroke="#2a2a2a" stroke-width="0.7"/>
<line x1="443.45" y1="72.77" x2="445.05" y2="72.77" stroke="#1a1a1a" stroke-width="0.6"/>
<circle cx="444.25" cy="73.17" r="0.9" fill="#111"/>
<circle cx="444.25" cy="84.25" r="0.9" fill="#111"/>
<circle cx="444.25" cy="78.17" r="0.9" fill="#111"/>
<line x1="442.95" y1="79.87" x2="445.55" y2="79.87" stroke="#1a1a1a" stroke-width="0.7"/>
<line x1="444.25" y1="124" x2="444.25" y2="126.2" stroke="#222" stroke-width="1"/>
<text stroke="#3a3a3a" stroke-width="0.08" x="444.25" y="134.6" font-size="6" text-anchor="middle" fill="#3a3a3a">2</text>
<rect x="446.8" y="103.17" width="2.9" height="20.83" fill="#b8072a"/>
<line x1="448.25" y1="104.86" x2="448.25" y2="101.48" stroke="#2a2a2a" stroke-width="0.7"/>
<line x1="447.45" y1="101.48" x2="449.05" y2="101.48" stroke="#1a1a1a" stroke-width="0.6"/>
<circle cx="448.25" cy="101.88" r="0.9" fill="#111"/>
<circle cx="448.25" cy="104.35" r="0.9" fill="#111"/>
<circle cx="448.25" cy="102.83" r="0.9" fill="#111"/>
<line x1="446.95" y1="103.52" x2="449.55" y2="103.52" stroke="#1a1a1a" stroke-width="0.7"/>
<line x1="448.25" y1="124" x2="448.25" y2="126.2" stroke="#222" stroke-width="1"/>
<text stroke="#3a3a3a" stroke-width="0.08" x="448.25" y="134.6" font-size="6" text-anchor="middle" fill="#3a3a3a">3</text>
<rect x="450.8" y="102.61" width="2.9" height="21.39" fill="#b8072a"/>
<line x1="452.25" y1="105.42" x2="452.25" y2="99.79" stroke="#2a2a2a" stroke-width="0.7"/>
<line x1="451.45" y1="99.79" x2="453.05" y2="99.79" stroke="#1a1a1a" stroke-width="0.6"/>
<circle cx="452.25" cy="100.19" r="0.9" fill="#111"/>
<circle cx="452.25" cy="104.58" r="0.9" fill="#111"/>
<circle cx="452.25" cy="102.04" r="0.9" fill="#111"/>
<line x1="450.95" y1="102.96" x2="453.55" y2="102.96" stroke="#1a1a1a" stroke-width="0.7"/>
<line x1="452.25" y1="124" x2="452.25" y2="126.2" stroke="#222" stroke-width="1"/>
<text stroke="#3a3a3a" stroke-width="0.08" x="452.25" y="134.6" font-size="6" text-anchor="middle" fill="#3a3a3a">4</text>
<rect x="454.8" y="105.42" width="2.9" height="18.58" fill="#b8072a"/>
<line x1="456.25" y1="108.8" x2="456.25" y2="102.04" stroke="#2a2a2a" stroke-width="0.7"/>
<line x1="455.45" y1="102.04" x2="457.05" y2="102.04" stroke="#1a1a1a" stroke-width="0.6"/>
<circle cx="456.25" cy="102.44" r="0.9" fill="#111"/>
<circle cx="456.25" cy="107.79" r="0.9" fill="#111"/>
<circle cx="456.25" cy="104.75" r="0.9" fill="#111"/>
<line x1="454.95" y1="105.77" x2="457.55" y2="105.77" stroke="#1a1a1a" stroke-width="0.7"/>
<line x1="456.25" y1="124" x2="456.25" y2="126.2" stroke="#222" stroke-width="1"/>
<text stroke="#3a3a3a" stroke-width="0.08" x="456.25" y="134.6" font-size="6" text-anchor="middle" fill="#3a3a3a">5</text>
<rect x="461.6" y="67.7" width="2.9" height="56.3" fill="#ee9418"/>
<circle cx="463.05" cy="67.9" r="0.9" fill="#111"/>
<line x1="461.75" y1="68.05" x2="464.35" y2="68.05" stroke="#1a1a1a" stroke-width="0.7"/>
<line x1="463.05" y1="124" x2="463.05" y2="126.2" stroke="#222" stroke-width="1"/>
<text stroke="#3a3a3a" stroke-width="0.08" x="463.05" y="134.6" font-size="6" text-anchor="middle" fill="#3a3a3a">0</text>
<rect x="465.6" y="64.32" width="2.9" height="59.68" fill="#ee9418"/>
<line x1="467.05" y1="80.09" x2="467.05" y2="48.56" stroke="#2a2a2a" stroke-width="0.7"/>
<line x1="466.25" y1="48.56" x2="467.85" y2="48.56" stroke="#1a1a1a" stroke-width="0.6"/>
<circle cx="467.05" cy="48.96" r="0.9" fill="#111"/>
<circle cx="467.05" cy="75.36" r="0.9" fill="#111"/>
<circle cx="467.05" cy="61.17" r="0.9" fill="#111"/>
<line x1="465.75" y1="64.67" x2="468.35" y2="64.67" stroke="#1a1a1a" stroke-width="0.7"/>
<line x1="467.05" y1="124" x2="467.05" y2="126.2" stroke="#222" stroke-width="1"/>
<text stroke="#3a3a3a" stroke-width="0.08" x="467.05" y="134.6" font-size="6" text-anchor="middle" fill="#3a3a3a">1</text>
<rect x="469.6" y="67.7" width="2.9" height="56.3" fill="#ee9418"/>
<line x1="471.05" y1="73.33" x2="471.05" y2="62.07" stroke="#2a2a2a" stroke-width="0.7"/>
<line x1="470.25" y1="62.07" x2="471.85" y2="62.07" stroke="#1a1a1a" stroke-width="0.6"/>
<circle cx="471.05" cy="62.47" r="0.9" fill="#111"/>
<circle cx="471.05" cy="71.64" r="0.9" fill="#111"/>
<circle cx="471.05" cy="66.57" r="0.9" fill="#111"/>
<line x1="469.75" y1="68.05" x2="472.35" y2="68.05" stroke="#1a1a1a" stroke-width="0.7"/>
<line x1="471.05" y1="124" x2="471.05" y2="126.2" stroke="#222" stroke-width="1"/>
<text stroke="#3a3a3a" stroke-width="0.08" x="471.05" y="134.6" font-size="6" text-anchor="middle" fill="#3a3a3a">2</text>
<rect x="473.6" y="68.83" width="2.9" height="55.17" fill="#ee9418"/>
<line x1="475.05" y1="72.2" x2="475.05" y2="65.45" stroke="#2a2a2a" stroke-width="0.7"/>
<line x1="474.25" y1="65.45" x2="475.85" y2="65.45" stroke="#1a1a1a" stroke-width="0.6"/>
<circle cx="475.05" cy="65.85" r="0.9" fill="#111"/>
<circle cx="475.05" cy="71.19" r="0.9" fill="#111"/>
<circle cx="475.05" cy="68.15" r="0.9" fill="#111"/>
<line x1="473.75" y1="69.18" x2="476.35" y2="69.18" stroke="#1a1a1a" stroke-width="0.7"/>
<line x1="475.05" y1="124" x2="475.05" y2="126.2" stroke="#222" stroke-width="1"/>
<text stroke="#3a3a3a" stroke-width="0.08" x="475.05" y="134.6" font-size="6" text-anchor="middle" fill="#3a3a3a">3</text>
<rect x="477.6" y="66.01" width="2.9" height="57.99" fill="#ee9418"/>
<line x1="479.05" y1="68.26" x2="479.05" y2="63.76" stroke="#2a2a2a" stroke-width="0.7"/>
<line x1="478.25" y1="63.76" x2="479.85" y2="63.76" stroke="#1a1a1a" stroke-width="0.6"/>
<circle cx="479.05" cy="64.16" r="0.9" fill="#111"/>
<circle cx="479.05" cy="67.59" r="0.9" fill="#111"/>
<circle cx="479.05" cy="65.56" r="0.9" fill="#111"/>
<line x1="477.75" y1="66.36" x2="480.35" y2="66.36" stroke="#1a1a1a" stroke-width="0.7"/>
<line x1="479.05" y1="124" x2="479.05" y2="126.2" stroke="#222" stroke-width="1"/>
<text stroke="#3a3a3a" stroke-width="0.08" x="479.05" y="134.6" font-size="6" text-anchor="middle" fill="#3a3a3a">4</text>
<rect x="481.6" y="76.71" width="2.9" height="47.29" fill="#ee9418"/>
<line x1="483.05" y1="78.96" x2="483.05" y2="74.46" stroke="#2a2a2a" stroke-width="0.7"/>
<line x1="482.25" y1="74.46" x2="483.85" y2="74.46" stroke="#1a1a1a" stroke-width="0.6"/>
<circle cx="483.05" cy="74.86" r="0.9" fill="#111"/>
<circle cx="483.05" cy="78.28" r="0.9" fill="#111"/>
<circle cx="483.05" cy="76.26" r="0.9" fill="#111"/>
<line x1="481.75" y1="77.06" x2="484.35" y2="77.06" stroke="#1a1a1a" stroke-width="0.7"/>
<line x1="483.05" y1="124" x2="483.05" y2="126.2" stroke="#222" stroke-width="1"/>
<text stroke="#3a3a3a" stroke-width="0.08" x="483.05" y="134.6" font-size="6" text-anchor="middle" fill="#3a3a3a">5</text>
<rect x="488.7" y="67.7" width="2.9" height="56.3" fill="#32a034"/>
<circle cx="490.15" cy="67.9" r="0.9" fill="#111"/>
<line x1="488.85" y1="68.05" x2="491.45" y2="68.05" stroke="#1a1a1a" stroke-width="0.7"/>
<line x1="490.15" y1="124" x2="490.15" y2="126.2" stroke="#222" stroke-width="1"/>
<text stroke="#3a3a3a" stroke-width="0.08" x="490.15" y="134.6" font-size="6" text-anchor="middle" fill="#3a3a3a">0</text>
<rect x="492.7" y="66.01" width="2.9" height="57.99" fill="#32a034"/>
<line x1="494.15" y1="71.64" x2="494.15" y2="60.38" stroke="#2a2a2a" stroke-width="0.7"/>
<line x1="493.35" y1="60.38" x2="494.95" y2="60.38" stroke="#1a1a1a" stroke-width="0.6"/>
<circle cx="494.15" cy="60.78" r="0.9" fill="#111"/>
<circle cx="494.15" cy="69.95" r="0.9" fill="#111"/>
<circle cx="494.15" cy="64.88" r="0.9" fill="#111"/>
<line x1="492.85" y1="66.36" x2="495.45" y2="66.36" stroke="#1a1a1a" stroke-width="0.7"/>
<line x1="494.15" y1="124" x2="494.15" y2="126.2" stroke="#222" stroke-width="1"/>
<text stroke="#3a3a3a" stroke-width="0.08" x="494.15" y="134.6" font-size="6" text-anchor="middle" fill="#3a3a3a">1</text>
<rect x="496.7" y="71.08" width="2.9" height="52.92" fill="#32a034"/>
<line x1="498.15" y1="76.71" x2="498.15" y2="65.45" stroke="#2a2a2a" stroke-width="0.7"/>
<line x1="497.35" y1="65.45" x2="498.95" y2="65.45" stroke="#1a1a1a" stroke-width="0.6"/>
<circle cx="498.15" cy="65.85" r="0.9" fill="#111"/>
<circle cx="498.15" cy="75.02" r="0.9" fill="#111"/>
<circle cx="498.15" cy="69.95" r="0.9" fill="#111"/>
<line x1="496.85" y1="71.43" x2="499.45" y2="71.43" stroke="#1a1a1a" stroke-width="0.7"/>
<line x1="498.15" y1="124" x2="498.15" y2="126.2" stroke="#222" stroke-width="1"/>
<text stroke="#3a3a3a" stroke-width="0.08" x="498.15" y="134.6" font-size="6" text-anchor="middle" fill="#3a3a3a">2</text>
<rect x="500.7" y="78.4" width="2.9" height="45.6" fill="#32a034"/>
<line x1="502.15" y1="78.96" x2="502.15" y2="77.83" stroke="#2a2a2a" stroke-width="0.7"/>
<line x1="501.35" y1="77.83" x2="502.95" y2="77.83" stroke="#1a1a1a" stroke-width="0.6"/>
<circle cx="502.15" cy="78.23" r="0.9" fill="#111"/>
<circle cx="502.15" cy="78.79" r="0.9" fill="#111"/>
<circle cx="502.15" cy="78.28" r="0.9" fill="#111"/>
<line x1="500.85" y1="78.75" x2="503.45" y2="78.75" stroke="#1a1a1a" stroke-width="0.7"/>
<line x1="502.15" y1="124" x2="502.15" y2="126.2" stroke="#222" stroke-width="1"/>
<text stroke="#3a3a3a" stroke-width="0.08" x="502.15" y="134.6" font-size="6" text-anchor="middle" fill="#3a3a3a">3</text>
<rect x="504.7" y="80.09" width="2.9" height="43.91" fill="#32a034"/>
<line x1="506.15" y1="82.34" x2="506.15" y2="77.83" stroke="#2a2a2a" stroke-width="0.7"/>
<line x1="505.35" y1="77.83" x2="506.95" y2="77.83" stroke="#1a1a1a" stroke-width="0.6"/>
<circle cx="506.15" cy="78.23" r="0.9" fill="#111"/>
<circle cx="506.15" cy="81.66" r="0.9" fill="#111"/>
<circle cx="506.15" cy="79.64" r="0.9" fill="#111"/>
<line x1="504.85" y1="80.44" x2="507.45" y2="80.44" stroke="#1a1a1a" stroke-width="0.7"/>
<line x1="506.15" y1="124" x2="506.15" y2="126.2" stroke="#222" stroke-width="1"/>
<text stroke="#3a3a3a" stroke-width="0.08" x="506.15" y="134.6" font-size="6" text-anchor="middle" fill="#3a3a3a">4</text>
<rect x="508.7" y="83.46" width="2.9" height="40.54" fill="#32a034"/>
<line x1="510.15" y1="85.72" x2="510.15" y2="81.21" stroke="#2a2a2a" stroke-width="0.7"/>
<line x1="509.35" y1="81.21" x2="510.95" y2="81.21" stroke="#1a1a1a" stroke-width="0.6"/>
<circle cx="510.15" cy="81.61" r="0.9" fill="#111"/>
<circle cx="510.15" cy="85.04" r="0.9" fill="#111"/>
<circle cx="510.15" cy="83.01" r="0.9" fill="#111"/>
<line x1="508.85" y1="83.81" x2="511.45" y2="83.81" stroke="#1a1a1a" stroke-width="0.7"/>
<line x1="510.15" y1="124" x2="510.15" y2="126.2" stroke="#222" stroke-width="1"/>
<text stroke="#3a3a3a" stroke-width="0.08" x="510.15" y="134.6" font-size="6" text-anchor="middle" fill="#3a3a3a">5</text>
<text stroke="#333" stroke-width="0.22" x="435.8" y="32" font-size="8.2" fill="#333" textLength="47.6" lengthAdjust="spacingAndGlyphs">WSU-DLCL-2</text>
<line x1="456.4" y1="42" x2="510" y2="42" stroke="#6a6a6a" stroke-width="1.1"/>
<text stroke="#4a4a4a" stroke-width="0.22" x="469" y="39.5" font-size="5.9" fill="#4a4a4a" textLength="27" lengthAdjust="spacingAndGlyphs"><tspan font-style="italic">P</tspan> = .0037</text>
<text stroke="#2a2a2a" stroke-width="0.3" x="449.3" y="145.4" font-size="8" fill="#2a2a2a" textLength="20.4" lengthAdjust="spacingAndGlyphs">Time [d]</text>
<text stroke="#2a2a2a" stroke-width="0.3" transform="translate(386.54,80.5) rotate(-90)" font-size="7.6" text-anchor="middle" fill="#2a2a2a" textLength="53" lengthAdjust="spacingAndGlyphs">Normalized cell count</text>
<rect x="311" y="151.95" width="4.5" height="4.5" fill="#0c4680"/>
<text stroke="#3a3a3a" stroke-width="0.14" x="318.7" y="156.58" font-size="6.6" fill="#3a3a3a" textLength="19.2" lengthAdjust="spacingAndGlyphs">Solvent</text>
<rect x="347" y="151.95" width="4.5" height="4.5" fill="#b8072a"/>
<text stroke="#3a3a3a" stroke-width="0.14" x="354.8" y="156.58" font-size="6.6" fill="#3a3a3a" textLength="21.2" lengthAdjust="spacingAndGlyphs">CB-839</text>
<rect x="388" y="151.95" width="4.5" height="4.5" fill="#ee9418"/>
<text stroke="#3a3a3a" stroke-width="0.14" x="394.8" y="156.58" font-size="6.6" fill="#3a3a3a" textLength="12.2" lengthAdjust="spacingAndGlyphs">&#945;-KG</text>
<rect x="416" y="151.95" width="4.5" height="4.5" fill="#32a034"/>
<text stroke="#3a3a3a" stroke-width="0.14" x="422.8" y="156.58" font-size="6.6" fill="#3a3a3a" textLength="43.8" lengthAdjust="spacingAndGlyphs">CB-839 + &#945;-KG</text>
<text stroke="#000" stroke-width="0.3" x="6.4" y="201.6" font-size="10.8" fill="#000" font-weight="bold">C</text>
<line x1="43.5" y1="220.74" x2="43.5" y2="290.7" stroke="#222" stroke-width="1"/>
<line x1="40.4" y1="290.2" x2="43.4" y2="290.2" stroke="#222" stroke-width="1"/>
<text stroke="#444" stroke-width="0.12" x="37.1" y="292.49" font-size="6.4" text-anchor="end" fill="#444" textLength="7.51" lengthAdjust="spacingAndGlyphs">0.0</text>
<line x1="40.4" y1="281.88" x2="43.4" y2="281.88" stroke="#222" stroke-width="1"/>
<text stroke="#444" stroke-width="0.12" x="37.1" y="284.17" font-size="6.4" text-anchor="end" fill="#444" textLength="7.51" lengthAdjust="spacingAndGlyphs">0.2</text>
<line x1="40.4" y1="273.56" x2="43.4" y2="273.56" stroke="#222" stroke-width="1"/>
<text stroke="#444" stroke-width="0.12" x="37.1" y="275.85" font-size="6.4" text-anchor="end" fill="#444" textLength="7.51" lengthAdjust="spacingAndGlyphs">0.4</text>
<line x1="40.4" y1="265.24" x2="43.4" y2="265.24" stroke="#222" stroke-width="1"/>
<text stroke="#444" stroke-width="0.12" x="37.1" y="267.53" font-size="6.4" text-anchor="end" fill="#444" textLength="7.51" lengthAdjust="spacingAndGlyphs">0.6</text>
<line x1="40.4" y1="256.92" x2="43.4" y2="256.92" stroke="#222" stroke-width="1"/>
<text stroke="#444" stroke-width="0.12" x="37.1" y="259.21" font-size="6.4" text-anchor="end" fill="#444" textLength="7.51" lengthAdjust="spacingAndGlyphs">0.8</text>
<line x1="40.4" y1="248.6" x2="43.4" y2="248.6" stroke="#222" stroke-width="1"/>
<text stroke="#444" stroke-width="0.12" x="37.1" y="250.89" font-size="6.4" text-anchor="end" fill="#444" textLength="7.51" lengthAdjust="spacingAndGlyphs">1.0</text>
<line x1="40.4" y1="240.28" x2="43.4" y2="240.28" stroke="#222" stroke-width="1"/>
<text stroke="#444" stroke-width="0.12" x="37.1" y="242.57" font-size="6.4" text-anchor="end" fill="#444" textLength="7.51" lengthAdjust="spacingAndGlyphs">1.2</text>
<line x1="40.4" y1="231.96" x2="43.4" y2="231.96" stroke="#222" stroke-width="1"/>
<text stroke="#444" stroke-width="0.12" x="37.1" y="234.25" font-size="6.4" text-anchor="end" fill="#444" textLength="7.51" lengthAdjust="spacingAndGlyphs">1.4</text>
<line x1="40.4" y1="223.64" x2="43.4" y2="223.64" stroke="#222" stroke-width="1"/>
<text stroke="#444" stroke-width="0.12" x="37.1" y="225.93" font-size="6.4" text-anchor="end" fill="#444" textLength="7.51" lengthAdjust="spacingAndGlyphs">1.6</text>
<line x1="43.4" y1="290.2" x2="87.6" y2="290.2" stroke="#222" stroke-width="1"/>
<rect x="47.2" y="248.6" width="7" height="41.6" fill="#0f4a84"/>
<line x1="50.7" y1="249.43" x2="50.7" y2="247.77" stroke="#111" stroke-width="0.8"/>
<line x1="49.3" y1="247.77" x2="52.1" y2="247.77" stroke="#111" stroke-width="0.8"/>
<line x1="49.3" y1="249.43" x2="52.1" y2="249.43" stroke="#111" stroke-width="0.8"/>
<line x1="47.6" y1="249.1" x2="53.8" y2="249.1" stroke="#111" stroke-width="1.1"/>
<circle cx="48.9" cy="248.8" r="0.8" fill="#111"/>
<circle cx="52.5" cy="248.9" r="0.8" fill="#111"/>
<circle cx="50.7" cy="248.3" r="0.8" fill="#111"/>
<line x1="50.7" y1="290.2" x2="50.7" y2="292.4" stroke="#222" stroke-width="1"/>
<text stroke="#3a3a3a" stroke-width="0.12" transform="translate(53.3,300) rotate(-45)" font-size="6.2" text-anchor="end" fill="#3a3a3a">Solvent</text>
<rect x="57.1" y="274.81" width="7" height="15.39" fill="#c2041f"/>
<line x1="60.6" y1="275.22" x2="60.6" y2="274.39" stroke="#111" stroke-width="0.8"/>
<line x1="59.2" y1="274.39" x2="62" y2="274.39" stroke="#111" stroke-width="0.8"/>
<line x1="59.2" y1="275.22" x2="62" y2="275.22" stroke="#111" stroke-width="0.8"/>
<line x1="57.5" y1="275.31" x2="63.7" y2="275.31" stroke="#111" stroke-width="1.1"/>
<circle cx="58.8" cy="275.01" r="0.8" fill="#111"/>
<circle cx="62.4" cy="275.11" r="0.8" fill="#111"/>
<circle cx="60.6" cy="274.51" r="0.8" fill="#111"/>
<line x1="60.6" y1="290.2" x2="60.6" y2="292.4" stroke="#222" stroke-width="1"/>
<text stroke="#3a3a3a" stroke-width="0.12" transform="translate(63.2,300) rotate(-45)" font-size="6.2" text-anchor="end" fill="#3a3a3a">CB-839</text>
<rect x="67.1" y="259.83" width="7" height="30.37" fill="#f09205"/>
<line x1="70.6" y1="260.25" x2="70.6" y2="259.42" stroke="#111" stroke-width="0.8"/>
<line x1="69.2" y1="259.42" x2="72" y2="259.42" stroke="#111" stroke-width="0.8"/>
<line x1="69.2" y1="260.25" x2="72" y2="260.25" stroke="#111" stroke-width="0.8"/>
<line x1="67.5" y1="260.33" x2="73.7" y2="260.33" stroke="#111" stroke-width="1.1"/>
<circle cx="68.8" cy="260.03" r="0.8" fill="#111"/>
<circle cx="72.4" cy="260.13" r="0.8" fill="#111"/>
<circle cx="70.6" cy="259.53" r="0.8" fill="#111"/>
<line x1="70.6" y1="290.2" x2="70.6" y2="292.4" stroke="#222" stroke-width="1"/>
<text stroke="#3a3a3a" stroke-width="0.12" transform="translate(73.2,300) rotate(-45)" font-size="6.2" text-anchor="end" fill="#3a3a3a">CB-839 + &#945;-KG</text>
<rect x="77.2" y="283.54" width="7" height="6.66" fill="#3daa35"/>
<line x1="80.7" y1="283.96" x2="80.7" y2="283.13" stroke="#111" stroke-width="0.8"/>
<line x1="79.3" y1="283.13" x2="82.1" y2="283.13" stroke="#111" stroke-width="0.8"/>
<line x1="79.3" y1="283.96" x2="82.1" y2="283.96" stroke="#111" stroke-width="0.8"/>
<line x1="77.6" y1="284.04" x2="83.8" y2="284.04" stroke="#111" stroke-width="1.1"/>
<circle cx="78.9" cy="283.74" r="0.8" fill="#111"/>
<circle cx="82.5" cy="283.84" r="0.8" fill="#111"/>
<circle cx="80.7" cy="283.24" r="0.8" fill="#111"/>
<line x1="80.7" y1="290.2" x2="80.7" y2="292.4" stroke="#222" stroke-width="1"/>
<text stroke="#3a3a3a" stroke-width="0.12" transform="translate(83.3,300) rotate(-45)" font-size="6.2" text-anchor="end" fill="#3a3a3a">DMF</text>
<text stroke="#333" stroke-width="0.22" x="47.6" y="214.6" font-size="8.2" fill="#333" textLength="35.4" lengthAdjust="spacingAndGlyphs">SU-DHL-4</text>
<line x1="50.3" y1="226.2" x2="81" y2="226.2" stroke="#2a2a2a" stroke-width="1.1"/>
<text stroke="#444" stroke-width="0.22" x="52.6" y="224.3" font-size="6" fill="#444" textLength="25" lengthAdjust="spacingAndGlyphs"><tspan font-size="7.6">&lt;</tspan> 0.0001</text>
<line x1="61" y1="235.5" x2="70.3" y2="235.5" stroke="#2a2a2a" stroke-width="1.1"/>
<text stroke="#444" stroke-width="0.22" x="52.6" y="233.3" font-size="6" fill="#444" textLength="25" lengthAdjust="spacingAndGlyphs"><tspan font-size="7.6">&lt;</tspan> 0.0001</text>
<line x1="50.3" y1="244.6" x2="62.3" y2="244.6" stroke="#2a2a2a" stroke-width="1.1"/>
<text stroke="#444" stroke-width="0.22" x="44.8" y="241.9" font-size="6" fill="#444" textLength="24.8" lengthAdjust="spacingAndGlyphs"><tspan font-size="7.6">&lt;</tspan> 0.0001</text>
<text stroke="#2a2a2a" stroke-width="0.3" transform="translate(23.84,255.8) rotate(-90)" font-size="7.6" text-anchor="middle" fill="#2a2a2a" textLength="57" lengthAdjust="spacingAndGlyphs">Norm. GSH/GSSG ratio</text>
<line x1="122.5" y1="220.74" x2="122.5" y2="290.7" stroke="#222" stroke-width="1"/>
<line x1="120" y1="290.2" x2="123" y2="290.2" stroke="#222" stroke-width="1"/>
<text stroke="#444" stroke-width="0.12" x="116.7" y="292.49" font-size="6.4" text-anchor="end" fill="#444" textLength="7.51" lengthAdjust="spacingAndGlyphs">0.0</text>
<line x1="120" y1="281.88" x2="123" y2="281.88" stroke="#222" stroke-width="1"/>
<text stroke="#444" stroke-width="0.12" x="116.7" y="284.17" font-size="6.4" text-anchor="end" fill="#444" textLength="7.51" lengthAdjust="spacingAndGlyphs">0.2</text>
<line x1="120" y1="273.56" x2="123" y2="273.56" stroke="#222" stroke-width="1"/>
<text stroke="#444" stroke-width="0.12" x="116.7" y="275.85" font-size="6.4" text-anchor="end" fill="#444" textLength="7.51" lengthAdjust="spacingAndGlyphs">0.4</text>
<line x1="120" y1="265.24" x2="123" y2="265.24" stroke="#222" stroke-width="1"/>
<text stroke="#444" stroke-width="0.12" x="116.7" y="267.53" font-size="6.4" text-anchor="end" fill="#444" textLength="7.51" lengthAdjust="spacingAndGlyphs">0.6</text>
<line x1="120" y1="256.92" x2="123" y2="256.92" stroke="#222" stroke-width="1"/>
<text stroke="#444" stroke-width="0.12" x="116.7" y="259.21" font-size="6.4" text-anchor="end" fill="#444" textLength="7.51" lengthAdjust="spacingAndGlyphs">0.8</text>
<line x1="120" y1="248.6" x2="123" y2="248.6" stroke="#222" stroke-width="1"/>
<text stroke="#444" stroke-width="0.12" x="116.7" y="250.89" font-size="6.4" text-anchor="end" fill="#444" textLength="7.51" lengthAdjust="spacingAndGlyphs">1.0</text>
<line x1="120" y1="240.28" x2="123" y2="240.28" stroke="#222" stroke-width="1"/>
<text stroke="#444" stroke-width="0.12" x="116.7" y="242.57" font-size="6.4" text-anchor="end" fill="#444" textLength="7.51" lengthAdjust="spacingAndGlyphs">1.2</text>
<line x1="120" y1="231.96" x2="123" y2="231.96" stroke="#222" stroke-width="1"/>
<text stroke="#444" stroke-width="0.12" x="116.7" y="234.25" font-size="6.4" text-anchor="end" fill="#444" textLength="7.51" lengthAdjust="spacingAndGlyphs">1.4</text>
<line x1="120" y1="223.64" x2="123" y2="223.64" stroke="#222" stroke-width="1"/>
<text stroke="#444" stroke-width="0.12" x="116.7" y="225.93" font-size="6.4" text-anchor="end" fill="#444" textLength="7.51" lengthAdjust="spacingAndGlyphs">1.6</text>
<line x1="123" y1="290.2" x2="167.2" y2="290.2" stroke="#222" stroke-width="1"/>
<rect x="126.1" y="249.43" width="7.2" height="40.77" fill="#0f4a84"/>
<line x1="129.7" y1="251.1" x2="129.7" y2="247.77" stroke="#111" stroke-width="0.8"/>
<line x1="128.3" y1="247.77" x2="131.1" y2="247.77" stroke="#111" stroke-width="0.8"/>
<line x1="128.3" y1="251.1" x2="131.1" y2="251.1" stroke="#111" stroke-width="0.8"/>
<line x1="126.5" y1="249.93" x2="132.9" y2="249.93" stroke="#111" stroke-width="1.1"/>
<circle cx="127.9" cy="249.63" r="0.8" fill="#111"/>
<circle cx="131.5" cy="249.73" r="0.8" fill="#111"/>
<circle cx="129.7" cy="249.13" r="0.8" fill="#111"/>
<line x1="129.7" y1="290.2" x2="129.7" y2="292.4" stroke="#222" stroke-width="1"/>
<text stroke="#3a3a3a" stroke-width="0.12" transform="translate(132.3,300) rotate(-45)" font-size="6.2" text-anchor="end" fill="#3a3a3a">Solvent</text>
<rect x="136.2" y="272.31" width="7.2" height="17.89" fill="#c2041f"/>
<line x1="139.8" y1="272.73" x2="139.8" y2="271.9" stroke="#111" stroke-width="0.8"/>
<line x1="138.4" y1="271.9" x2="141.2" y2="271.9" stroke="#111" stroke-width="0.8"/>
<line x1="138.4" y1="272.73" x2="141.2" y2="272.73" stroke="#111" stroke-width="0.8"/>
<line x1="136.6" y1="272.81" x2="143" y2="272.81" stroke="#111" stroke-width="1.1"/>
<circle cx="138" cy="272.51" r="0.8" fill="#111"/>
<circle cx="141.6" cy="272.61" r="0.8" fill="#111"/>
<circle cx="139.8" cy="272.01" r="0.8" fill="#111"/>
<line x1="139.8" y1="290.2" x2="139.8" y2="292.4" stroke="#222" stroke-width="1"/>
<text stroke="#3a3a3a" stroke-width="0.12" transform="translate(142.4,300) rotate(-45)" font-size="6.2" text-anchor="end" fill="#3a3a3a">CB-839</text>
<rect x="146.1" y="249.43" width="7.2" height="40.77" fill="#f09205"/>
<line x1="149.7" y1="251.1" x2="149.7" y2="248.6" stroke="#111" stroke-width="0.8"/>
<line x1="148.3" y1="248.6" x2="151.1" y2="248.6" stroke="#111" stroke-width="0.8"/>
<line x1="148.3" y1="251.1" x2="151.1" y2="251.1" stroke="#111" stroke-width="0.8"/>
<line x1="146.5" y1="249.93" x2="152.9" y2="249.93" stroke="#111" stroke-width="1.1"/>
<circle cx="147.9" cy="249.63" r="0.8" fill="#111"/>
<circle cx="151.5" cy="249.73" r="0.8" fill="#111"/>
<circle cx="149.7" cy="249.13" r="0.8" fill="#111"/>
<line x1="149.7" y1="290.2" x2="149.7" y2="292.4" stroke="#222" stroke-width="1"/>
<text stroke="#3a3a3a" stroke-width="0.12" transform="translate(152.3,300) rotate(-45)" font-size="6.2" text-anchor="end" fill="#3a3a3a">CB-839 + &#945;-KG</text>
<rect x="156.2" y="283.13" width="7.2" height="7.07" fill="#3daa35"/>
<line x1="159.8" y1="283.96" x2="159.8" y2="282.3" stroke="#111" stroke-width="0.8"/>
<line x1="158.4" y1="282.3" x2="161.2" y2="282.3" stroke="#111" stroke-width="0.8"/>
<line x1="158.4" y1="283.96" x2="161.2" y2="283.96" stroke="#111" stroke-width="0.8"/>
<line x1="156.6" y1="283.63" x2="163" y2="283.63" stroke="#111" stroke-width="1.1"/>
<circle cx="158" cy="283.33" r="0.8" fill="#111"/>
<circle cx="161.6" cy="283.43" r="0.8" fill="#111"/>
<circle cx="159.8" cy="282.83" r="0.8" fill="#111"/>
<line x1="159.8" y1="290.2" x2="159.8" y2="292.4" stroke="#222" stroke-width="1"/>
<text stroke="#3a3a3a" stroke-width="0.12" transform="translate(162.4,300) rotate(-45)" font-size="6.2" text-anchor="end" fill="#3a3a3a">DMF</text>
<text stroke="#333" stroke-width="0.22" x="129.8" y="214.6" font-size="8.2" fill="#333" textLength="29.9" lengthAdjust="spacingAndGlyphs">DOHH2</text>
<line x1="129.3" y1="226.6" x2="160.2" y2="226.6" stroke="#2a2a2a" stroke-width="1.1"/>
<text stroke="#444" stroke-width="0.22" x="132.6" y="224.5" font-size="6" fill="#444" textLength="25" lengthAdjust="spacingAndGlyphs"><tspan font-size="7.6">&lt;</tspan> 0.0001</text>
<line x1="140" y1="235.5" x2="150.5" y2="235.5" stroke="#2a2a2a" stroke-width="1.1"/>
<text stroke="#444" stroke-width="0.22" x="132.6" y="233.5" font-size="6" fill="#444" textLength="25" lengthAdjust="spacingAndGlyphs"><tspan font-size="7.6">&lt;</tspan> 0.0001</text>
<line x1="129.3" y1="244.1" x2="141.3" y2="244.1" stroke="#2a2a2a" stroke-width="1.1"/>
<text stroke="#444" stroke-width="0.22" x="124.4" y="241.9" font-size="6" fill="#444" textLength="24.8" lengthAdjust="spacingAndGlyphs"><tspan font-size="7.6">&lt;</tspan> 0.0001</text>
<text stroke="#2a2a2a" stroke-width="0.3" transform="translate(103.54,256) rotate(-90)" font-size="7.6" text-anchor="middle" fill="#2a2a2a" textLength="57" lengthAdjust="spacingAndGlyphs">Norm. GSH/GSSG ratio</text>
<line x1="43.5" y1="362.6" x2="43.5" y2="433.2" stroke="#222" stroke-width="1"/>
<line x1="40.4" y1="432.7" x2="43.4" y2="432.7" stroke="#222" stroke-width="1"/>
<text stroke="#444" stroke-width="0.12" x="37.1" y="434.99" font-size="6.4" text-anchor="end" fill="#444" textLength="7.51" lengthAdjust="spacingAndGlyphs">0.0</text>
<line x1="40.4" y1="424.3" x2="43.4" y2="424.3" stroke="#222" stroke-width="1"/>
<text stroke="#444" stroke-width="0.12" x="37.1" y="426.59" font-size="6.4" text-anchor="end" fill="#444" textLength="7.51" lengthAdjust="spacingAndGlyphs">0.2</text>
<line x1="40.4" y1="415.9" x2="43.4" y2="415.9" stroke="#222" stroke-width="1"/>
<text stroke="#444" stroke-width="0.12" x="37.1" y="418.19" font-size="6.4" text-anchor="end" fill="#444" textLength="7.51" lengthAdjust="spacingAndGlyphs">0.4</text>
<line x1="40.4" y1="407.5" x2="43.4" y2="407.5" stroke="#222" stroke-width="1"/>
<text stroke="#444" stroke-width="0.12" x="37.1" y="409.79" font-size="6.4" text-anchor="end" fill="#444" textLength="7.51" lengthAdjust="spacingAndGlyphs">0.6</text>
<line x1="40.4" y1="399.1" x2="43.4" y2="399.1" stroke="#222" stroke-width="1"/>
<text stroke="#444" stroke-width="0.12" x="37.1" y="401.39" font-size="6.4" text-anchor="end" fill="#444" textLength="7.51" lengthAdjust="spacingAndGlyphs">0.8</text>
<line x1="40.4" y1="390.7" x2="43.4" y2="390.7" stroke="#222" stroke-width="1"/>
<text stroke="#444" stroke-width="0.12" x="37.1" y="392.99" font-size="6.4" text-anchor="end" fill="#444" textLength="7.51" lengthAdjust="spacingAndGlyphs">1.0</text>
<line x1="40.4" y1="382.3" x2="43.4" y2="382.3" stroke="#222" stroke-width="1"/>
<text stroke="#444" stroke-width="0.12" x="37.1" y="384.59" font-size="6.4" text-anchor="end" fill="#444" textLength="7.51" lengthAdjust="spacingAndGlyphs">1.2</text>
<line x1="40.4" y1="373.9" x2="43.4" y2="373.9" stroke="#222" stroke-width="1"/>
<text stroke="#444" stroke-width="0.12" x="37.1" y="376.19" font-size="6.4" text-anchor="end" fill="#444" textLength="7.51" lengthAdjust="spacingAndGlyphs">1.4</text>
<line x1="40.4" y1="365.5" x2="43.4" y2="365.5" stroke="#222" stroke-width="1"/>
<text stroke="#444" stroke-width="0.12" x="37.1" y="367.79" font-size="6.4" text-anchor="end" fill="#444" textLength="7.51" lengthAdjust="spacingAndGlyphs">1.6</text>
<line x1="43.4" y1="432.7" x2="89" y2="432.7" stroke="#222" stroke-width="1"/>
<rect x="45.4" y="391.12" width="7.6" height="41.58" fill="#0f4a84"/>
<line x1="49.2" y1="394.9" x2="49.2" y2="386.92" stroke="#111" stroke-width="0.8"/>
<line x1="47.8" y1="386.92" x2="50.6" y2="386.92" stroke="#111" stroke-width="0.8"/>
<line x1="47.8" y1="394.9" x2="50.6" y2="394.9" stroke="#111" stroke-width="0.8"/>
<circle cx="49.2" cy="393.64" r="0.95" fill="#111"/>
<circle cx="49.2" cy="388.6" r="0.95" fill="#111"/>
<circle cx="49.2" cy="387.34" r="0.95" fill="#111"/>
<line x1="45.8" y1="391.62" x2="52.6" y2="391.62" stroke="#111" stroke-width="1.1"/>
<circle cx="47.4" cy="391.32" r="0.8" fill="#111"/>
<circle cx="51" cy="391.42" r="0.8" fill="#111"/>
<circle cx="49.2" cy="390.82" r="0.8" fill="#111"/>
<line x1="49.2" y1="432.7" x2="49.2" y2="434.9" stroke="#222" stroke-width="1"/>
<text stroke="#3a3a3a" stroke-width="0.12" transform="translate(51.8,442.5) rotate(-45)" font-size="6.2" text-anchor="end" fill="#3a3a3a">Solvent</text>
<rect x="56.2" y="400.36" width="7.6" height="32.34" fill="#c2041f"/>
<line x1="60" y1="402.46" x2="60" y2="397.42" stroke="#111" stroke-width="0.8"/>
<line x1="58.6" y1="397.42" x2="61.4" y2="397.42" stroke="#111" stroke-width="0.8"/>
<line x1="58.6" y1="402.46" x2="61.4" y2="402.46" stroke="#111" stroke-width="0.8"/>
<circle cx="60" cy="402.46" r="0.95" fill="#111"/>
<circle cx="60" cy="399.1" r="0.95" fill="#111"/>
<line x1="56.6" y1="400.86" x2="63.4" y2="400.86" stroke="#111" stroke-width="1.1"/>
<circle cx="58.2" cy="400.56" r="0.8" fill="#111"/>
<circle cx="61.8" cy="400.66" r="0.8" fill="#111"/>
<circle cx="60" cy="400.06" r="0.8" fill="#111"/>
<line x1="60" y1="432.7" x2="60" y2="434.9" stroke="#222" stroke-width="1"/>
<text stroke="#3a3a3a" stroke-width="0.12" transform="translate(62.6,442.5) rotate(-45)" font-size="6.2" text-anchor="end" fill="#3a3a3a">CB-839</text>
<rect x="67.1" y="381.88" width="7.6" height="50.82" fill="#f09205"/>
<line x1="70.9" y1="392.8" x2="70.9" y2="368.86" stroke="#111" stroke-width="0.8"/>
<line x1="69.5" y1="368.86" x2="72.3" y2="368.86" stroke="#111" stroke-width="0.8"/>
<line x1="69.5" y1="392.8" x2="72.3" y2="392.8" stroke="#111" stroke-width="0.8"/>
<circle cx="70.9" cy="390.7" r="0.95" fill="#111"/>
<circle cx="70.9" cy="384.4" r="0.95" fill="#111"/>
<circle cx="70.9" cy="369.7" r="0.95" fill="#111"/>
<line x1="67.5" y1="382.38" x2="74.3" y2="382.38" stroke="#111" stroke-width="1.1"/>
<circle cx="69.1" cy="382.08" r="0.8" fill="#111"/>
<circle cx="72.7" cy="382.18" r="0.8" fill="#111"/>
<circle cx="70.9" cy="381.58" r="0.8" fill="#111"/>
<line x1="70.9" y1="432.7" x2="70.9" y2="434.9" stroke="#222" stroke-width="1"/>
<text stroke="#3a3a3a" stroke-width="0.12" transform="translate(73.5,442.5) rotate(-45)" font-size="6.2" text-anchor="end" fill="#3a3a3a">CB-839 + &#945;-KG</text>
<rect x="78.3" y="414.64" width="7.6" height="18.06" fill="#3daa35"/>
<line x1="82.1" y1="416.74" x2="82.1" y2="411.7" stroke="#111" stroke-width="0.8"/>
<line x1="80.7" y1="411.7" x2="83.5" y2="411.7" stroke="#111" stroke-width="0.8"/>
<line x1="80.7" y1="416.74" x2="83.5" y2="416.74" stroke="#111" stroke-width="0.8"/>
<circle cx="82.1" cy="415.9" r="0.95" fill="#111"/>
<circle cx="82.1" cy="412.54" r="0.95" fill="#111"/>
<line x1="78.7" y1="415.14" x2="85.5" y2="415.14" stroke="#111" stroke-width="1.1"/>
<circle cx="80.3" cy="414.84" r="0.8" fill="#111"/>
<circle cx="83.9" cy="414.94" r="0.8" fill="#111"/>
<circle cx="82.1" cy="414.34" r="0.8" fill="#111"/>
<line x1="82.1" y1="432.7" x2="82.1" y2="434.9" stroke="#222" stroke-width="1"/>
<text stroke="#3a3a3a" stroke-width="0.12" transform="translate(84.7,442.5) rotate(-45)" font-size="6.2" text-anchor="end" fill="#3a3a3a">DMF</text>
<text stroke="#333" stroke-width="0.22" x="54.2" y="356.6" font-size="8.2" fill="#333" textLength="21.6" lengthAdjust="spacingAndGlyphs">HBL-1</text>
<line x1="49.6" y1="365.7" x2="81.5" y2="365.7" stroke="#2a2a2a" stroke-width="1.1"/>
<text stroke="#444" stroke-width="0.22" x="55.9" y="364.1" font-size="6" fill="#444" textLength="18.7" lengthAdjust="spacingAndGlyphs">0.0014</text>
<line x1="48.5" y1="383.9" x2="60" y2="383.9" stroke="#2a2a2a" stroke-width="1.1"/>
<text stroke="#444" stroke-width="0.22" x="44.8" y="381.6" font-size="6" fill="#444" textLength="18.8" lengthAdjust="spacingAndGlyphs">0.0379</text>
<text stroke="#2a2a2a" stroke-width="0.3" transform="translate(23.84,399.5) rotate(-90)" font-size="7.6" text-anchor="middle" fill="#2a2a2a" textLength="57" lengthAdjust="spacingAndGlyphs">Norm. GSH/GSSG ratio</text>
<line x1="122.5" y1="362.14" x2="122.5" y2="432.9" stroke="#222" stroke-width="1"/>
<line x1="119.7" y1="432.4" x2="122.7" y2="432.4" stroke="#222" stroke-width="1"/>
<text stroke="#444" stroke-width="0.12" x="116.4" y="434.69" font-size="6.4" text-anchor="end" fill="#444" textLength="7.51" lengthAdjust="spacingAndGlyphs">0.0</text>
<line x1="119.7" y1="423.98" x2="122.7" y2="423.98" stroke="#222" stroke-width="1"/>
<text stroke="#444" stroke-width="0.12" x="116.4" y="426.27" font-size="6.4" text-anchor="end" fill="#444" textLength="7.51" lengthAdjust="spacingAndGlyphs">0.2</text>
<line x1="119.7" y1="415.56" x2="122.7" y2="415.56" stroke="#222" stroke-width="1"/>
<text stroke="#444" stroke-width="0.12" x="116.4" y="417.85" font-size="6.4" text-anchor="end" fill="#444" textLength="7.51" lengthAdjust="spacingAndGlyphs">0.4</text>
<line x1="119.7" y1="407.14" x2="122.7" y2="407.14" stroke="#222" stroke-width="1"/>
<text stroke="#444" stroke-width="0.12" x="116.4" y="409.43" font-size="6.4" text-anchor="end" fill="#444" textLength="7.51" lengthAdjust="spacingAndGlyphs">0.6</text>
<line x1="119.7" y1="398.72" x2="122.7" y2="398.72" stroke="#222" stroke-width="1"/>
<text stroke="#444" stroke-width="0.12" x="116.4" y="401.01" font-size="6.4" text-anchor="end" fill="#444" textLength="7.51" lengthAdjust="spacingAndGlyphs">0.8</text>
<line x1="119.7" y1="390.3" x2="122.7" y2="390.3" stroke="#222" stroke-width="1"/>
<text stroke="#444" stroke-width="0.12" x="116.4" y="392.59" font-size="6.4" text-anchor="end" fill="#444" textLength="7.51" lengthAdjust="spacingAndGlyphs">1.0</text>
<line x1="119.7" y1="381.88" x2="122.7" y2="381.88" stroke="#222" stroke-width="1"/>
<text stroke="#444" stroke-width="0.12" x="116.4" y="384.17" font-size="6.4" text-anchor="end" fill="#444" textLength="7.51" lengthAdjust="spacingAndGlyphs">1.2</text>
<line x1="119.7" y1="373.46" x2="122.7" y2="373.46" stroke="#222" stroke-width="1"/>
<text stroke="#444" stroke-width="0.12" x="116.4" y="375.75" font-size="6.4" text-anchor="end" fill="#444" textLength="7.51" lengthAdjust="spacingAndGlyphs">1.4</text>
<line x1="119.7" y1="365.04" x2="122.7" y2="365.04" stroke="#222" stroke-width="1"/>
<text stroke="#444" stroke-width="0.12" x="116.4" y="367.33" font-size="6.4" text-anchor="end" fill="#444" textLength="7.51" lengthAdjust="spacingAndGlyphs">1.6</text>
<line x1="122.7" y1="432.4" x2="168" y2="432.4" stroke="#222" stroke-width="1"/>
<rect x="124.3" y="390.3" width="7.7" height="42.1" fill="#0f4a84"/>
<line x1="128.15" y1="391.14" x2="128.15" y2="389.46" stroke="#111" stroke-width="0.8"/>
<line x1="126.75" y1="389.46" x2="129.55" y2="389.46" stroke="#111" stroke-width="0.8"/>
<line x1="126.75" y1="391.14" x2="129.55" y2="391.14" stroke="#111" stroke-width="0.8"/>
<line x1="124.7" y1="390.8" x2="131.6" y2="390.8" stroke="#111" stroke-width="1.1"/>
<circle cx="126.35" cy="390.5" r="0.8" fill="#111"/>
<circle cx="129.95" cy="390.6" r="0.8" fill="#111"/>
<circle cx="128.15" cy="390" r="0.8" fill="#111"/>
<line x1="128.15" y1="432.4" x2="128.15" y2="434.6" stroke="#222" stroke-width="1"/>
<text stroke="#3a3a3a" stroke-width="0.12" transform="translate(130.75,442.5) rotate(-45)" font-size="6.2" text-anchor="end" fill="#3a3a3a">Solvent</text>
<rect x="135.4" y="403.77" width="7.7" height="28.63" fill="#c2041f"/>
<line x1="139.25" y1="404.19" x2="139.25" y2="403.35" stroke="#111" stroke-width="0.8"/>
<line x1="137.85" y1="403.35" x2="140.65" y2="403.35" stroke="#111" stroke-width="0.8"/>
<line x1="137.85" y1="404.19" x2="140.65" y2="404.19" stroke="#111" stroke-width="0.8"/>
<line x1="135.8" y1="404.27" x2="142.7" y2="404.27" stroke="#111" stroke-width="1.1"/>
<circle cx="137.45" cy="403.97" r="0.8" fill="#111"/>
<circle cx="141.05" cy="404.07" r="0.8" fill="#111"/>
<circle cx="139.25" cy="403.47" r="0.8" fill="#111"/>
<line x1="139.25" y1="432.4" x2="139.25" y2="434.6" stroke="#222" stroke-width="1"/>
<text stroke="#3a3a3a" stroke-width="0.12" transform="translate(141.85,442.5) rotate(-45)" font-size="6.2" text-anchor="end" fill="#3a3a3a">CB-839</text>
<rect x="146.5" y="388.19" width="7.7" height="44.2" fill="#f09205"/>
<line x1="150.35" y1="388.62" x2="150.35" y2="387.77" stroke="#111" stroke-width="0.8"/>
<line x1="148.95" y1="387.77" x2="151.75" y2="387.77" stroke="#111" stroke-width="0.8"/>
<line x1="148.95" y1="388.62" x2="151.75" y2="388.62" stroke="#111" stroke-width="0.8"/>
<line x1="146.9" y1="388.69" x2="153.8" y2="388.69" stroke="#111" stroke-width="1.1"/>
<circle cx="148.55" cy="388.39" r="0.8" fill="#111"/>
<circle cx="152.15" cy="388.5" r="0.8" fill="#111"/>
<circle cx="150.35" cy="387.89" r="0.8" fill="#111"/>
<line x1="150.35" y1="432.4" x2="150.35" y2="434.6" stroke="#222" stroke-width="1"/>
<text stroke="#3a3a3a" stroke-width="0.12" transform="translate(152.95,442.5) rotate(-45)" font-size="6.2" text-anchor="end" fill="#3a3a3a">CB-839 + &#945;-KG</text>
<rect x="157.4" y="411.35" width="7.7" height="21.05" fill="#3daa35"/>
<line x1="161.25" y1="413.03" x2="161.25" y2="409.25" stroke="#111" stroke-width="0.8"/>
<line x1="159.85" y1="409.25" x2="162.65" y2="409.25" stroke="#111" stroke-width="0.8"/>
<line x1="159.85" y1="413.03" x2="162.65" y2="413.03" stroke="#111" stroke-width="0.8"/>
<circle cx="161.25" cy="409.25" r="0.95" fill="#111"/>
<circle cx="161.25" cy="412.61" r="0.95" fill="#111"/>
<line x1="157.8" y1="411.85" x2="164.7" y2="411.85" stroke="#111" stroke-width="1.1"/>
<circle cx="159.45" cy="411.55" r="0.8" fill="#111"/>
<circle cx="163.05" cy="411.65" r="0.8" fill="#111"/>
<circle cx="161.25" cy="411.05" r="0.8" fill="#111"/>
<line x1="161.25" y1="432.4" x2="161.25" y2="434.6" stroke="#222" stroke-width="1"/>
<text stroke="#3a3a3a" stroke-width="0.12" transform="translate(163.85,442.5) rotate(-45)" font-size="6.2" text-anchor="end" fill="#3a3a3a">DMF</text>
<text stroke="#333" stroke-width="0.22" x="132.7" y="357" font-size="8.2" fill="#333" textLength="23.8" lengthAdjust="spacingAndGlyphs">U2932</text>
<line x1="129.2" y1="367.6" x2="159.6" y2="367.6" stroke="#2a2a2a" stroke-width="1.1"/>
<text stroke="#444" stroke-width="0.22" x="132" y="365.5" font-size="6" fill="#444" textLength="25" lengthAdjust="spacingAndGlyphs"><tspan font-size="7.6">&lt;</tspan> 0.0001</text>
<line x1="139.6" y1="377.4" x2="150.4" y2="377.4" stroke="#2a2a2a" stroke-width="1.1"/>
<text stroke="#444" stroke-width="0.22" x="132" y="375.1" font-size="6" fill="#444" textLength="25" lengthAdjust="spacingAndGlyphs"><tspan font-size="7.6">&lt;</tspan> 0.0001</text>
<line x1="131" y1="386.3" x2="142.7" y2="386.3" stroke="#2a2a2a" stroke-width="1.1"/>
<text stroke="#444" stroke-width="0.22" x="124.3" y="384.3" font-size="6" fill="#444" textLength="24.8" lengthAdjust="spacingAndGlyphs"><tspan font-size="7.6">&lt;</tspan> 0.0001</text>
<text stroke="#2a2a2a" stroke-width="0.3" transform="translate(103.54,399.5) rotate(-90)" font-size="7.6" text-anchor="middle" fill="#2a2a2a" textLength="57" lengthAdjust="spacingAndGlyphs">Norm. GSH/GSSG ratio</text>
<text stroke="#000" stroke-width="0.3" x="187.8" y="202" font-size="10.8" fill="#000" font-weight="bold">D</text>
<line x1="220.5" y1="222.3" x2="220.5" y2="290.9" stroke="#222" stroke-width="1"/>
<line x1="217.6" y1="290.4" x2="220.4" y2="290.4" stroke="#222" stroke-width="1"/>
<text stroke="#444" stroke-width="0.12" x="214.1" y="292.62" font-size="6.2" text-anchor="end" fill="#444" textLength="2.78" lengthAdjust="spacingAndGlyphs">0</text>
<line x1="217.6" y1="268.2" x2="220.4" y2="268.2" stroke="#222" stroke-width="1"/>
<text stroke="#444" stroke-width="0.12" x="214.1" y="270.42" font-size="6.2" text-anchor="end" fill="#444" textLength="2.78" lengthAdjust="spacingAndGlyphs">5</text>
<line x1="217.6" y1="246" x2="220.4" y2="246" stroke="#222" stroke-width="1"/>
<text stroke="#444" stroke-width="0.12" x="214.1" y="248.22" font-size="6.2" text-anchor="end" fill="#444" textLength="5.56" lengthAdjust="spacingAndGlyphs">10</text>
<line x1="217.6" y1="223.8" x2="220.4" y2="223.8" stroke="#222" stroke-width="1"/>
<text stroke="#444" stroke-width="0.12" x="214.1" y="226.02" font-size="6.2" text-anchor="end" fill="#444" textLength="5.56" lengthAdjust="spacingAndGlyphs">15</text>
<line x1="220.4" y1="290.4" x2="392.9" y2="290.4" stroke="#222" stroke-width="1"/>
<text stroke="#2a2a2a" stroke-width="0.3" transform="translate(203.76,255.6) rotate(-90)" font-size="6" text-anchor="middle" fill="#2a2a2a" textLength="41" lengthAdjust="spacingAndGlyphs">Norm. MitoSOX+ cells</text>
<rect x="226.9" y="283.74" width="5.6" height="6.66" fill="#17485a"/>
<line x1="227.2" y1="284.14" x2="232.2" y2="284.14" stroke="#111" stroke-width="1"/>
<circle cx="228.4" cy="284.04" r="0.8" fill="#111"/>
<circle cx="231" cy="284.24" r="0.8" fill="#111"/>
<line x1="229.7" y1="283.74" x2="229.7" y2="282.41" stroke="#111" stroke-width="0.7"/>
<rect x="234.6" y="242.89" width="5.6" height="47.51" fill="#c40322"/>
<line x1="234.9" y1="243.29" x2="239.9" y2="243.29" stroke="#222" stroke-width="0.9"/>
<line x1="233.55" y1="290.4" x2="233.55" y2="292.6" stroke="#222" stroke-width="1"/>
<text stroke="#3a3a3a" stroke-width="0.12" transform="translate(236.35,299.6) rotate(-45)" font-size="6" text-anchor="end" fill="#3a3a3a">DOHH2</text>
<rect x="247.94" y="285.07" width="5.6" height="5.33" fill="#17485a"/>
<line x1="248.24" y1="285.47" x2="253.24" y2="285.47" stroke="#111" stroke-width="1"/>
<circle cx="249.44" cy="285.37" r="0.8" fill="#111"/>
<circle cx="252.04" cy="285.57" r="0.8" fill="#111"/>
<line x1="250.74" y1="285.07" x2="250.74" y2="283.74" stroke="#111" stroke-width="0.7"/>
<rect x="255.64" y="243.34" width="5.6" height="47.06" fill="#c40322"/>
<line x1="255.94" y1="243.74" x2="260.94" y2="243.74" stroke="#222" stroke-width="0.9"/>
<line x1="254.59" y1="290.4" x2="254.59" y2="292.6" stroke="#222" stroke-width="1"/>
<text stroke="#3a3a3a" stroke-width="0.12" transform="translate(257.39,299.6) rotate(-45)" font-size="6" text-anchor="end" fill="#3a3a3a">SU-DHL-4</text>
<rect x="268.98" y="285.96" width="5.6" height="4.44" fill="#17485a"/>
<line x1="269.28" y1="286.36" x2="274.28" y2="286.36" stroke="#111" stroke-width="1"/>
<line x1="279.48" y1="258.88" x2="279.48" y2="238.45" stroke="#111" stroke-width="0.7"/>
<line x1="278.48" y1="238.45" x2="280.48" y2="238.45" stroke="#111" stroke-width="0.7"/>
<circle cx="279.48" cy="238.45" r="0.8" fill="#111"/>
<circle cx="279.48" cy="254.79" r="0.7" fill="#111"/>
<rect x="276.68" y="248.66" width="5.6" height="41.74" fill="#c40322"/>
<line x1="279.48" y1="256.83" x2="279.48" y2="248.66" stroke="#5a0010" stroke-width="0.7"/>
<line x1="276.98" y1="249.06" x2="281.98" y2="249.06" stroke="#222" stroke-width="0.9"/>
<line x1="275.63" y1="290.4" x2="275.63" y2="292.6" stroke="#222" stroke-width="1"/>
<text stroke="#3a3a3a" stroke-width="0.12" transform="translate(278.43,299.6) rotate(-45)" font-size="6" text-anchor="end" fill="#3a3a3a">SU-DHL-6</text>
<rect x="290.02" y="285.96" width="5.6" height="4.44" fill="#17485a"/>
<line x1="290.32" y1="286.36" x2="295.32" y2="286.36" stroke="#111" stroke-width="1"/>
<line x1="300.52" y1="280.19" x2="300.52" y2="270.42" stroke="#111" stroke-width="0.7"/>
<line x1="299.52" y1="270.42" x2="301.52" y2="270.42" stroke="#111" stroke-width="0.7"/>
<circle cx="300.52" cy="270.42" r="0.8" fill="#111"/>
<circle cx="300.52" cy="278.23" r="0.7" fill="#111"/>
<rect x="297.72" y="275.3" width="5.6" height="15.1" fill="#c40322"/>
<line x1="300.52" y1="279.21" x2="300.52" y2="275.3" stroke="#5a0010" stroke-width="0.7"/>
<line x1="298.02" y1="275.7" x2="303.02" y2="275.7" stroke="#222" stroke-width="0.9"/>
<line x1="296.67" y1="290.4" x2="296.67" y2="292.6" stroke="#222" stroke-width="1"/>
<text stroke="#3a3a3a" stroke-width="0.12" transform="translate(299.47,299.6) rotate(-45)" font-size="6" text-anchor="end" fill="#3a3a3a">WSU-DLCL-2</text>
<rect x="311.06" y="285.96" width="5.6" height="4.44" fill="#17485a"/>
<line x1="311.36" y1="286.36" x2="316.36" y2="286.36" stroke="#111" stroke-width="1"/>
<line x1="321.56" y1="248.22" x2="321.56" y2="225.13" stroke="#111" stroke-width="0.7"/>
<line x1="320.56" y1="225.13" x2="322.56" y2="225.13" stroke="#111" stroke-width="0.7"/>
<circle cx="321.56" cy="225.13" r="0.8" fill="#111"/>
<circle cx="321.56" cy="243.6" r="0.7" fill="#111"/>
<rect x="318.76" y="236.68" width="5.6" height="53.72" fill="#c40322"/>
<line x1="321.56" y1="245.91" x2="321.56" y2="236.68" stroke="#5a0010" stroke-width="0.7"/>
<line x1="319.06" y1="237.08" x2="324.06" y2="237.08" stroke="#222" stroke-width="0.9"/>
<line x1="317.71" y1="290.4" x2="317.71" y2="292.6" stroke="#222" stroke-width="1"/>
<text stroke="#3a3a3a" stroke-width="0.12" transform="translate(320.51,299.6) rotate(-45)" font-size="6" text-anchor="end" fill="#3a3a3a">HBL-1</text>
<rect x="332.1" y="285.96" width="5.6" height="4.44" fill="#17485a"/>
<line x1="332.4" y1="286.36" x2="337.4" y2="286.36" stroke="#111" stroke-width="1"/>
<rect x="339.8" y="272.64" width="5.6" height="17.76" fill="#c40322"/>
<line x1="340.1" y1="273.04" x2="345.1" y2="273.04" stroke="#222" stroke-width="0.9"/>
<line x1="338.75" y1="290.4" x2="338.75" y2="292.6" stroke="#222" stroke-width="1"/>
<text stroke="#3a3a3a" stroke-width="0.12" transform="translate(341.55,299.6) rotate(-45)" font-size="6" text-anchor="end" fill="#3a3a3a">OCI-Ly3</text>
<rect x="353.14" y="285.96" width="5.6" height="4.44" fill="#17485a"/>
<line x1="353.44" y1="286.36" x2="358.44" y2="286.36" stroke="#111" stroke-width="1"/>
<line x1="363.64" y1="270.86" x2="363.64" y2="253.99" stroke="#111" stroke-width="0.7"/>
<line x1="362.64" y1="253.99" x2="364.64" y2="253.99" stroke="#111" stroke-width="0.7"/>
<circle cx="363.64" cy="253.99" r="0.8" fill="#111"/>
<circle cx="363.64" cy="267.49" r="0.7" fill="#111"/>
<rect x="360.84" y="262.43" width="5.6" height="27.97" fill="#c40322"/>
<line x1="363.64" y1="269.18" x2="363.64" y2="262.43" stroke="#5a0010" stroke-width="0.7"/>
<line x1="361.14" y1="262.83" x2="366.14" y2="262.83" stroke="#222" stroke-width="0.9"/>
<line x1="359.79" y1="290.4" x2="359.79" y2="292.6" stroke="#222" stroke-width="1"/>
<text stroke="#3a3a3a" stroke-width="0.12" transform="translate(362.59,299.6) rotate(-45)" font-size="6" text-anchor="end" fill="#3a3a3a">SU-DHL-2</text>
<rect x="374.18" y="285.96" width="5.6" height="4.44" fill="#17485a"/>
<line x1="374.48" y1="286.36" x2="379.48" y2="286.36" stroke="#111" stroke-width="1"/>
<line x1="384.68" y1="286.4" x2="384.68" y2="261.54" stroke="#111" stroke-width="0.7"/>
<line x1="383.68" y1="261.54" x2="385.68" y2="261.54" stroke="#111" stroke-width="0.7"/>
<circle cx="384.68" cy="261.54" r="0.8" fill="#111"/>
<circle cx="384.68" cy="281.43" r="0.7" fill="#111"/>
<rect x="381.88" y="273.97" width="5.6" height="16.43" fill="#c40322"/>
<line x1="384.68" y1="283.92" x2="384.68" y2="273.97" stroke="#5a0010" stroke-width="0.7"/>
<line x1="382.18" y1="274.37" x2="387.18" y2="274.37" stroke="#222" stroke-width="0.9"/>
<line x1="380.83" y1="290.4" x2="380.83" y2="292.6" stroke="#222" stroke-width="1"/>
<text stroke="#3a3a3a" stroke-width="0.12" transform="translate(383.63,299.6) rotate(-45)" font-size="6" text-anchor="end" fill="#3a3a3a">U2932</text>
<text stroke="#444" stroke-width="0.22" x="233.3" y="230.8" font-size="6" text-anchor="middle" fill="#444" font-style="italic">P</text>
<text stroke="#444" stroke-width="0.22" x="222.7" y="238.1" font-size="6" fill="#444" textLength="19.3" lengthAdjust="spacingAndGlyphs"><tspan font-size="7.6">&lt;</tspan> .0001</text>
<line x1="229.4" y1="239.8" x2="237" y2="239.8" stroke="#333" stroke-width="0.9"/>
<text stroke="#444" stroke-width="0.22" x="254.4" y="230.8" font-size="6" text-anchor="middle" fill="#444" font-style="italic">P</text>
<text stroke="#444" stroke-width="0.22" x="242.9" y="238.1" font-size="6" fill="#444" textLength="21.1" lengthAdjust="spacingAndGlyphs"><tspan font-size="7.6">&lt;</tspan> .0001</text>
<line x1="250.5" y1="239.8" x2="258" y2="239.8" stroke="#333" stroke-width="0.9"/>
<text stroke="#444" stroke-width="0.22" x="270.5" y="225.9" font-size="6" fill="#444" textLength="9" lengthAdjust="spacingAndGlyphs"><tspan font-style="italic">P</tspan> =</text>
<text stroke="#444" stroke-width="0.22" x="268.8" y="232.9" font-size="6" fill="#444" textLength="14.5" lengthAdjust="spacingAndGlyphs">.0362</text>
<line x1="271.5" y1="234.2" x2="279" y2="234.2" stroke="#333" stroke-width="0.9"/>
<text stroke="#444" stroke-width="0.22" x="283" y="265" font-size="6" fill="#444" textLength="26.4" lengthAdjust="spacingAndGlyphs"><tspan font-style="italic">P</tspan> = .0118</text>
<line x1="292.7" y1="266.7" x2="298.8" y2="266.7" stroke="#333" stroke-width="0.9"/>
<text stroke="#444" stroke-width="0.22" x="304.6" y="219.8" font-size="6" fill="#444" textLength="26.6" lengthAdjust="spacingAndGlyphs"><tspan font-style="italic">P</tspan> = .0046</text>
<line x1="314.6" y1="221.2" x2="320.4" y2="221.2" stroke="#333" stroke-width="0.9"/>
<text stroke="#444" stroke-width="0.22" x="326" y="265" font-size="6" fill="#444" textLength="26.7" lengthAdjust="spacingAndGlyphs"><tspan font-style="italic">P</tspan> = .0019</text>
<line x1="335.4" y1="266.7" x2="342.1" y2="266.7" stroke="#333" stroke-width="0.9"/>
<text stroke="#444" stroke-width="0.22" x="346.7" y="248.6" font-size="6" fill="#444" textLength="26" lengthAdjust="spacingAndGlyphs"><tspan font-style="italic">P</tspan> = .0293</text>
<line x1="355.8" y1="250.4" x2="364" y2="250.4" stroke="#333" stroke-width="0.9"/>
<rect x="399.2" y="248.05" width="5.3" height="5.3" fill="#18477a"/>
<text stroke="#3a3a3a" stroke-width="0.14" x="407.7" y="253.08" font-size="6.6" fill="#3a3a3a" textLength="19.3" lengthAdjust="spacingAndGlyphs">Solvent</text>
<rect x="399.2" y="257.95" width="5.3" height="5.3" fill="#c40322"/>
<text stroke="#3a3a3a" stroke-width="0.14" x="407.7" y="262.98" font-size="6.6" fill="#3a3a3a" textLength="21.1" lengthAdjust="spacingAndGlyphs">CB-839</text>
<text stroke="#000" stroke-width="0.3" x="188" y="344.2" font-size="10.8" fill="#000" font-weight="bold">E</text>
<line x1="220.5" y1="364.22" x2="220.5" y2="433" stroke="#222" stroke-width="1"/>
<line x1="218" y1="432.5" x2="220.8" y2="432.5" stroke="#222" stroke-width="1"/>
<text stroke="#444" stroke-width="0.12" x="214.6" y="434.72" font-size="6.2" text-anchor="end" fill="#444" textLength="2.67" lengthAdjust="spacingAndGlyphs">0</text>
<line x1="218" y1="415.68" x2="220.8" y2="415.68" stroke="#222" stroke-width="1"/>
<text stroke="#444" stroke-width="0.12" x="214.6" y="417.9" font-size="6.2" text-anchor="end" fill="#444" textLength="2.67" lengthAdjust="spacingAndGlyphs">2</text>
<line x1="218" y1="398.86" x2="220.8" y2="398.86" stroke="#222" stroke-width="1"/>
<text stroke="#444" stroke-width="0.12" x="214.6" y="401.08" font-size="6.2" text-anchor="end" fill="#444" textLength="2.67" lengthAdjust="spacingAndGlyphs">4</text>
<line x1="218" y1="382.04" x2="220.8" y2="382.04" stroke="#222" stroke-width="1"/>
<text stroke="#444" stroke-width="0.12" x="214.6" y="384.26" font-size="6.2" text-anchor="end" fill="#444" textLength="2.67" lengthAdjust="spacingAndGlyphs">6</text>
<line x1="218" y1="365.22" x2="220.8" y2="365.22" stroke="#222" stroke-width="1"/>
<text stroke="#444" stroke-width="0.12" x="214.6" y="367.44" font-size="6.2" text-anchor="end" fill="#444" textLength="2.67" lengthAdjust="spacingAndGlyphs">8</text>
<line x1="220.8" y1="432.5" x2="265.6" y2="432.5" stroke="#222" stroke-width="1"/>
<rect x="223.6" y="424.51" width="11.2" height="7.99" fill="#0f4a84"/>
<line x1="229.2" y1="424.93" x2="229.2" y2="424.09" stroke="#111" stroke-width="0.9"/>
<line x1="227" y1="424.09" x2="231.4" y2="424.09" stroke="#111" stroke-width="0.9"/>
<line x1="227" y1="424.93" x2="231.4" y2="424.93" stroke="#111" stroke-width="0.9"/>
<circle cx="229.2" cy="424.51" r="1" fill="#111"/>
<circle cx="226.4" cy="424.71" r="0.9" fill="#111"/>
<circle cx="232" cy="424.71" r="0.9" fill="#111"/>
<circle cx="229.2" cy="424.71" r="0.9" fill="#111"/>
<line x1="229.2" y1="432.5" x2="229.2" y2="435.3" stroke="#222" stroke-width="1"/>
<text stroke="#3a3a3a" stroke-width="0.12" transform="translate(232.3,441.1) rotate(-45)" font-size="5.8" text-anchor="end" fill="#3a3a3a">Solvent</text>
<rect x="238" y="376.99" width="11.2" height="55.51" fill="#c2041f"/>
<line x1="243.6" y1="382.04" x2="243.6" y2="371.95" stroke="#111" stroke-width="0.9"/>
<line x1="241.4" y1="371.95" x2="245.8" y2="371.95" stroke="#111" stroke-width="0.9"/>
<line x1="241.4" y1="382.04" x2="245.8" y2="382.04" stroke="#111" stroke-width="0.9"/>
<circle cx="243.6" cy="382.88" r="1" fill="#111"/>
<circle cx="243.6" cy="375.31" r="1" fill="#111"/>
<line x1="243.6" y1="432.5" x2="243.6" y2="435.3" stroke="#222" stroke-width="1"/>
<text stroke="#3a3a3a" stroke-width="0.12" transform="translate(246.7,441.1) rotate(-45)" font-size="5.8" text-anchor="end" fill="#3a3a3a">Solvent</text>
<rect x="252.2" y="410.63" width="11.2" height="21.87" fill="#f09205"/>
<line x1="257.8" y1="417.36" x2="257.8" y2="403.91" stroke="#111" stroke-width="0.9"/>
<line x1="255.6" y1="403.91" x2="260" y2="403.91" stroke="#111" stroke-width="0.9"/>
<line x1="255.6" y1="417.36" x2="260" y2="417.36" stroke="#111" stroke-width="0.9"/>
<circle cx="257.8" cy="415.68" r="1" fill="#111"/>
<circle cx="257.8" cy="405.59" r="1" fill="#111"/>
<line x1="257.8" y1="432.5" x2="257.8" y2="435.3" stroke="#222" stroke-width="1"/>
<text stroke="#3a3a3a" stroke-width="0.12" transform="translate(260.9,441.1) rotate(-45)" font-size="5.8" text-anchor="end" fill="#3a3a3a">&#945;-tocopherol</text>
<text stroke="#333" stroke-width="0.22" x="225.3" y="356.3" font-size="7.9" fill="#333" textLength="36.2" lengthAdjust="spacingAndGlyphs">SU-DHL-4</text>
<text stroke="#444" stroke-width="0.22" x="237" y="365.4" font-size="6" fill="#444" textLength="26.5" lengthAdjust="spacingAndGlyphs"><tspan font-style="italic">P</tspan> = .0457</text>
<line x1="243.3" y1="367.3" x2="257.3" y2="367.3" stroke="#333" stroke-width="0.9"/>
<text stroke="#2a2a2a" stroke-width="0.3" transform="translate(206.99,397.6) rotate(-90)" font-size="7.2" text-anchor="middle" fill="#2a2a2a" textLength="52" lengthAdjust="spacingAndGlyphs">Norm. MitoSOX+ cells</text>
<line x1="236.9" y1="468.5" x2="260.8" y2="468.5" stroke="#555" stroke-width="1.2"/>
<text stroke="#444" stroke-width="0.12" x="248.6" y="477" font-size="7" text-anchor="middle" fill="#444" textLength="21" lengthAdjust="spacingAndGlyphs">CB-839</text>
<line x1="298.5" y1="364.1" x2="298.5" y2="433.1" stroke="#222" stroke-width="1"/>
<line x1="296.2" y1="432.6" x2="299" y2="432.6" stroke="#222" stroke-width="1"/>
<text stroke="#444" stroke-width="0.12" x="292.8" y="434.82" font-size="6.2" text-anchor="end" fill="#444" textLength="2.67" lengthAdjust="spacingAndGlyphs">0</text>
<line x1="296.2" y1="410.1" x2="299" y2="410.1" stroke="#222" stroke-width="1"/>
<text stroke="#444" stroke-width="0.12" x="292.8" y="412.32" font-size="6.2" text-anchor="end" fill="#444" textLength="2.67" lengthAdjust="spacingAndGlyphs">5</text>
<line x1="296.2" y1="387.6" x2="299" y2="387.6" stroke="#222" stroke-width="1"/>
<text stroke="#444" stroke-width="0.12" x="292.8" y="389.82" font-size="6.2" text-anchor="end" fill="#444" textLength="5.34" lengthAdjust="spacingAndGlyphs">10</text>
<line x1="296.2" y1="365.1" x2="299" y2="365.1" stroke="#222" stroke-width="1"/>
<text stroke="#444" stroke-width="0.12" x="292.8" y="367.32" font-size="6.2" text-anchor="end" fill="#444" textLength="5.34" lengthAdjust="spacingAndGlyphs">15</text>
<line x1="299" y1="432.6" x2="344" y2="432.6" stroke="#222" stroke-width="1"/>
<rect x="302" y="428.55" width="11" height="4.05" fill="#0f4a84"/>
<line x1="307.5" y1="429.9" x2="307.5" y2="425.85" stroke="#111" stroke-width="0.9"/>
<line x1="305.3" y1="425.85" x2="309.7" y2="425.85" stroke="#111" stroke-width="0.9"/>
<line x1="305.3" y1="429.9" x2="309.7" y2="429.9" stroke="#111" stroke-width="0.9"/>
<circle cx="307.5" cy="426.3" r="1" fill="#111"/>
<circle cx="304.7" cy="428.75" r="0.9" fill="#111"/>
<circle cx="310.3" cy="428.75" r="0.9" fill="#111"/>
<circle cx="307.5" cy="428.75" r="0.9" fill="#111"/>
<line x1="307.5" y1="432.6" x2="307.5" y2="435.4" stroke="#222" stroke-width="1"/>
<text stroke="#3a3a3a" stroke-width="0.12" transform="translate(310.6,441.2) rotate(-45)" font-size="5.8" text-anchor="end" fill="#3a3a3a">Solvent</text>
<rect x="316.4" y="390.3" width="11" height="42.3" fill="#c2041f"/>
<line x1="321.9" y1="397.95" x2="321.9" y2="382.65" stroke="#111" stroke-width="0.9"/>
<line x1="319.7" y1="382.65" x2="324.1" y2="382.65" stroke="#111" stroke-width="0.9"/>
<line x1="319.7" y1="397.95" x2="324.1" y2="397.95" stroke="#111" stroke-width="0.9"/>
<circle cx="321.9" cy="395.7" r="1" fill="#111"/>
<line x1="321.9" y1="432.6" x2="321.9" y2="435.4" stroke="#222" stroke-width="1"/>
<text stroke="#3a3a3a" stroke-width="0.12" transform="translate(325,441.2) rotate(-45)" font-size="5.8" text-anchor="end" fill="#3a3a3a">Solvent</text>
<rect x="331" y="428.33" width="11" height="4.27" fill="#f09205"/>
<line x1="336.5" y1="428.55" x2="336.5" y2="428.1" stroke="#111" stroke-width="0.9"/>
<line x1="334.3" y1="428.1" x2="338.7" y2="428.1" stroke="#111" stroke-width="0.9"/>
<line x1="334.3" y1="428.55" x2="338.7" y2="428.55" stroke="#111" stroke-width="0.9"/>
<circle cx="336.5" cy="428.1" r="1" fill="#111"/>
<line x1="336.5" y1="432.6" x2="336.5" y2="435.4" stroke="#222" stroke-width="1"/>
<text stroke="#3a3a3a" stroke-width="0.12" transform="translate(339.6,441.2) rotate(-45)" font-size="5.8" text-anchor="end" fill="#3a3a3a">&#945;-tocopherol</text>
<text stroke="#333" stroke-width="0.22" x="303.7" y="355.9" font-size="7.9" fill="#333" textLength="36.3" lengthAdjust="spacingAndGlyphs">SU-DHL-6</text>
<text stroke="#444" stroke-width="0.22" x="315.9" y="376.6" font-size="6" fill="#444" textLength="25.4" lengthAdjust="spacingAndGlyphs"><tspan font-style="italic">P</tspan> = .0361</text>
<line x1="322" y1="378" x2="335.8" y2="378" stroke="#333" stroke-width="0.9"/>
<text stroke="#2a2a2a" stroke-width="0.3" transform="translate(281.89,397.6) rotate(-90)" font-size="7.2" text-anchor="middle" fill="#2a2a2a" textLength="52" lengthAdjust="spacingAndGlyphs">Norm. MitoSOX+ cells</text>
<line x1="314.3" y1="468.5" x2="337.8" y2="468.5" stroke="#555" stroke-width="1.2"/>
<text stroke="#444" stroke-width="0.12" x="326.2" y="477" font-size="7" text-anchor="middle" fill="#444" textLength="21" lengthAdjust="spacingAndGlyphs">CB-839</text>
<line x1="374.5" y1="363.68" x2="374.5" y2="433.1" stroke="#222" stroke-width="1"/>
<line x1="371.4" y1="432.6" x2="374.2" y2="432.6" stroke="#222" stroke-width="1"/>
<text stroke="#444" stroke-width="0.12" x="368" y="434.82" font-size="6.2" text-anchor="end" fill="#444" textLength="2.67" lengthAdjust="spacingAndGlyphs">0</text>
<line x1="371.4" y1="409.96" x2="374.2" y2="409.96" stroke="#222" stroke-width="1"/>
<text stroke="#444" stroke-width="0.12" x="368" y="412.18" font-size="6.2" text-anchor="end" fill="#444" textLength="2.67" lengthAdjust="spacingAndGlyphs">2</text>
<line x1="371.4" y1="387.32" x2="374.2" y2="387.32" stroke="#222" stroke-width="1"/>
<text stroke="#444" stroke-width="0.12" x="368" y="389.54" font-size="6.2" text-anchor="end" fill="#444" textLength="2.67" lengthAdjust="spacingAndGlyphs">4</text>
<line x1="371.4" y1="364.68" x2="374.2" y2="364.68" stroke="#222" stroke-width="1"/>
<text stroke="#444" stroke-width="0.12" x="368" y="366.9" font-size="6.2" text-anchor="end" fill="#444" textLength="2.67" lengthAdjust="spacingAndGlyphs">6</text>
<line x1="374.2" y1="432.6" x2="419" y2="432.6" stroke="#222" stroke-width="1"/>
<rect x="376.8" y="421.28" width="11" height="11.32" fill="#0f4a84"/>
<line x1="382.3" y1="422.98" x2="382.3" y2="417.88" stroke="#111" stroke-width="0.9"/>
<line x1="380.1" y1="417.88" x2="384.5" y2="417.88" stroke="#111" stroke-width="0.9"/>
<line x1="380.1" y1="422.98" x2="384.5" y2="422.98" stroke="#111" stroke-width="0.9"/>
<circle cx="382.3" cy="419.02" r="1" fill="#111"/>
<circle cx="379.5" cy="421.48" r="0.9" fill="#111"/>
<circle cx="385.1" cy="421.48" r="0.9" fill="#111"/>
<circle cx="382.3" cy="421.48" r="0.9" fill="#111"/>
<line x1="382.3" y1="432.6" x2="382.3" y2="435.4" stroke="#222" stroke-width="1"/>
<text stroke="#3a3a3a" stroke-width="0.12" transform="translate(385.4,441.2) rotate(-45)" font-size="5.8" text-anchor="end" fill="#3a3a3a">Solvent</text>
<rect x="391.2" y="390.15" width="11" height="42.45" fill="#c2041f"/>
<line x1="396.7" y1="397.51" x2="396.7" y2="382.79" stroke="#111" stroke-width="0.9"/>
<line x1="394.5" y1="382.79" x2="398.9" y2="382.79" stroke="#111" stroke-width="0.9"/>
<line x1="394.5" y1="397.51" x2="398.9" y2="397.51" stroke="#111" stroke-width="0.9"/>
<circle cx="396.7" cy="377.13" r="1" fill="#111"/>
<circle cx="396.7" cy="396.38" r="1" fill="#111"/>
<line x1="396.7" y1="432.6" x2="396.7" y2="435.4" stroke="#222" stroke-width="1"/>
<text stroke="#3a3a3a" stroke-width="0.12" transform="translate(399.8,441.2) rotate(-45)" font-size="5.8" text-anchor="end" fill="#3a3a3a">Solvent</text>
<rect x="405.4" y="421.85" width="11" height="10.75" fill="#f09205"/>
<line x1="410.9" y1="422.41" x2="410.9" y2="421.28" stroke="#111" stroke-width="0.9"/>
<line x1="408.7" y1="421.28" x2="413.1" y2="421.28" stroke="#111" stroke-width="0.9"/>
<line x1="408.7" y1="422.41" x2="413.1" y2="422.41" stroke="#111" stroke-width="0.9"/>
<circle cx="410.9" cy="421.51" r="1" fill="#111"/>
<line x1="410.9" y1="432.6" x2="410.9" y2="435.4" stroke="#222" stroke-width="1"/>
<text stroke="#3a3a3a" stroke-width="0.12" transform="translate(414,441.2) rotate(-45)" font-size="5.8" text-anchor="end" fill="#3a3a3a">&#945;-tocopherol</text>
<text stroke="#333" stroke-width="0.22" x="384.6" y="356.3" font-size="7.9" fill="#333" textLength="24.2" lengthAdjust="spacingAndGlyphs">U2932</text>
<text stroke="#444" stroke-width="0.22" x="390.7" y="371.4" font-size="6" fill="#444" textLength="26.5" lengthAdjust="spacingAndGlyphs"><tspan font-style="italic">P</tspan> = .0109</text>
<line x1="396.7" y1="372.4" x2="410.6" y2="372.4" stroke="#333" stroke-width="0.9"/>
<text stroke="#2a2a2a" stroke-width="0.3" transform="translate(360.19,397.6) rotate(-90)" font-size="7.2" text-anchor="middle" fill="#2a2a2a" textLength="52" lengthAdjust="spacingAndGlyphs">Norm. MitoSOX+ cells</text>
<line x1="389.6" y1="468.5" x2="413.9" y2="468.5" stroke="#555" stroke-width="1.2"/>
<text stroke="#444" stroke-width="0.12" x="401.8" y="477" font-size="7" text-anchor="middle" fill="#444" textLength="21" lengthAdjust="spacingAndGlyphs">CB-839</text>
<line x1="452.5" y1="363.7" x2="452.5" y2="433.1" stroke="#222" stroke-width="1"/>
<line x1="449.5" y1="432.6" x2="452.3" y2="432.6" stroke="#222" stroke-width="1"/>
<text stroke="#444" stroke-width="0.12" x="446.1" y="434.82" font-size="6.2" text-anchor="end" fill="#444" textLength="2.67" lengthAdjust="spacingAndGlyphs">0</text>
<line x1="449.5" y1="415.62" x2="452.3" y2="415.62" stroke="#222" stroke-width="1"/>
<text stroke="#444" stroke-width="0.12" x="446.1" y="417.84" font-size="6.2" text-anchor="end" fill="#444" textLength="2.67" lengthAdjust="spacingAndGlyphs">5</text>
<line x1="449.5" y1="398.65" x2="452.3" y2="398.65" stroke="#222" stroke-width="1"/>
<text stroke="#444" stroke-width="0.12" x="446.1" y="400.87" font-size="6.2" text-anchor="end" fill="#444" textLength="5.34" lengthAdjust="spacingAndGlyphs">10</text>
<line x1="449.5" y1="381.68" x2="452.3" y2="381.68" stroke="#222" stroke-width="1"/>
<text stroke="#444" stroke-width="0.12" x="446.1" y="383.89" font-size="6.2" text-anchor="end" fill="#444" textLength="5.34" lengthAdjust="spacingAndGlyphs">15</text>
<line x1="449.5" y1="364.7" x2="452.3" y2="364.7" stroke="#222" stroke-width="1"/>
<text stroke="#444" stroke-width="0.12" x="446.1" y="366.92" font-size="6.2" text-anchor="end" fill="#444" textLength="5.34" lengthAdjust="spacingAndGlyphs">20</text>
<line x1="452.3" y1="432.6" x2="497" y2="432.6" stroke="#222" stroke-width="1"/>
<rect x="455.3" y="429.54" width="11" height="3.06" fill="#0f4a84"/>
<line x1="460.8" y1="429.88" x2="460.8" y2="429.21" stroke="#111" stroke-width="0.9"/>
<line x1="458.6" y1="429.21" x2="463" y2="429.21" stroke="#111" stroke-width="0.9"/>
<line x1="458.6" y1="429.88" x2="463" y2="429.88" stroke="#111" stroke-width="0.9"/>
<circle cx="460.8" cy="429.54" r="1" fill="#111"/>
<circle cx="458" cy="429.74" r="0.9" fill="#111"/>
<circle cx="463.6" cy="429.74" r="0.9" fill="#111"/>
<circle cx="460.8" cy="429.74" r="0.9" fill="#111"/>
<line x1="460.8" y1="432.6" x2="460.8" y2="435.4" stroke="#222" stroke-width="1"/>
<text stroke="#3a3a3a" stroke-width="0.12" transform="translate(463.9,441.2) rotate(-45)" font-size="5.8" text-anchor="end" fill="#3a3a3a">Solvent</text>
<rect x="469.7" y="391.18" width="11" height="41.42" fill="#c2041f"/>
<line x1="475.2" y1="396.27" x2="475.2" y2="386.09" stroke="#111" stroke-width="0.9"/>
<line x1="473" y1="386.09" x2="477.4" y2="386.09" stroke="#111" stroke-width="0.9"/>
<line x1="473" y1="396.27" x2="477.4" y2="396.27" stroke="#111" stroke-width="0.9"/>
<circle cx="475.2" cy="380.66" r="1" fill="#111"/>
<circle cx="475.2" cy="395.25" r="1" fill="#111"/>
<line x1="475.2" y1="432.6" x2="475.2" y2="435.4" stroke="#222" stroke-width="1"/>
<text stroke="#3a3a3a" stroke-width="0.12" transform="translate(478.3,441.2) rotate(-45)" font-size="5.8" text-anchor="end" fill="#3a3a3a">Solvent</text>
<rect x="483.8" y="408.84" width="11" height="23.76" fill="#f09205"/>
<line x1="489.3" y1="413.93" x2="489.3" y2="403.74" stroke="#111" stroke-width="0.9"/>
<line x1="487.1" y1="403.74" x2="491.5" y2="403.74" stroke="#111" stroke-width="0.9"/>
<line x1="487.1" y1="413.93" x2="491.5" y2="413.93" stroke="#111" stroke-width="0.9"/>
<circle cx="489.3" cy="405.44" r="1" fill="#111"/>
<circle cx="489.3" cy="412.91" r="1" fill="#111"/>
<line x1="489.3" y1="432.6" x2="489.3" y2="435.4" stroke="#222" stroke-width="1"/>
<text stroke="#3a3a3a" stroke-width="0.12" transform="translate(492.4,441.2) rotate(-45)" font-size="5.8" text-anchor="end" fill="#3a3a3a">&#945;-tocopherol</text>
<text stroke="#333" stroke-width="0.22" x="463.9" y="356.3" font-size="7.9" fill="#333" textLength="21.7" lengthAdjust="spacingAndGlyphs">HBL-1</text>
<text stroke="#444" stroke-width="0.22" x="469.1" y="377.5" font-size="6" fill="#444" textLength="26.9" lengthAdjust="spacingAndGlyphs"><tspan font-style="italic">P</tspan> = .0329</text>
<line x1="475.2" y1="378.4" x2="489" y2="378.4" stroke="#333" stroke-width="0.9"/>
<text stroke="#2a2a2a" stroke-width="0.3" transform="translate(434.29,397.6) rotate(-90)" font-size="7.2" text-anchor="middle" fill="#2a2a2a" textLength="52" lengthAdjust="spacingAndGlyphs">Norm. MitoSOX+ cells</text>
<line x1="467" y1="468.5" x2="491.3" y2="468.5" stroke="#555" stroke-width="1.2"/>
<text stroke="#444" stroke-width="0.12" x="479.2" y="477" font-size="7" text-anchor="middle" fill="#444" textLength="21" lengthAdjust="spacingAndGlyphs">CB-839</text>
<text stroke="#000" stroke-width="0.3" x="87.4" y="502.6" font-size="10.8" fill="#000" font-weight="bold">F</text>
<line x1="122.5" y1="514.24" x2="122.5" y2="595.7" stroke="#222" stroke-width="1"/>
<line x1="120" y1="595.2" x2="123" y2="595.2" stroke="#222" stroke-width="1"/>
<text stroke="#444" stroke-width="0.12" x="116.9" y="597.49" font-size="6.4" text-anchor="end" fill="#444" textLength="7.78" lengthAdjust="spacingAndGlyphs">0.0</text>
<line x1="120" y1="585.38" x2="123" y2="585.38" stroke="#222" stroke-width="1"/>
<text stroke="#444" stroke-width="0.12" x="116.9" y="587.67" font-size="6.4" text-anchor="end" fill="#444" textLength="7.78" lengthAdjust="spacingAndGlyphs">0.2</text>
<line x1="120" y1="575.56" x2="123" y2="575.56" stroke="#222" stroke-width="1"/>
<text stroke="#444" stroke-width="0.12" x="116.9" y="577.85" font-size="6.4" text-anchor="end" fill="#444" textLength="7.78" lengthAdjust="spacingAndGlyphs">0.4</text>
<line x1="120" y1="565.74" x2="123" y2="565.74" stroke="#222" stroke-width="1"/>
<text stroke="#444" stroke-width="0.12" x="116.9" y="568.03" font-size="6.4" text-anchor="end" fill="#444" textLength="7.78" lengthAdjust="spacingAndGlyphs">0.6</text>
<line x1="120" y1="555.92" x2="123" y2="555.92" stroke="#222" stroke-width="1"/>
<text stroke="#444" stroke-width="0.12" x="116.9" y="558.21" font-size="6.4" text-anchor="end" fill="#444" textLength="7.78" lengthAdjust="spacingAndGlyphs">0.8</text>
<line x1="120" y1="546.1" x2="123" y2="546.1" stroke="#222" stroke-width="1"/>
<text stroke="#444" stroke-width="0.12" x="116.9" y="548.39" font-size="6.4" text-anchor="end" fill="#444" textLength="7.78" lengthAdjust="spacingAndGlyphs">1.0</text>
<line x1="120" y1="536.28" x2="123" y2="536.28" stroke="#222" stroke-width="1"/>
<text stroke="#444" stroke-width="0.12" x="116.9" y="538.57" font-size="6.4" text-anchor="end" fill="#444" textLength="7.78" lengthAdjust="spacingAndGlyphs">1.2</text>
<line x1="120" y1="526.46" x2="123" y2="526.46" stroke="#222" stroke-width="1"/>
<text stroke="#444" stroke-width="0.12" x="116.9" y="528.75" font-size="6.4" text-anchor="end" fill="#444" textLength="7.78" lengthAdjust="spacingAndGlyphs">1.4</text>
<line x1="120" y1="516.64" x2="123" y2="516.64" stroke="#222" stroke-width="1"/>
<text stroke="#444" stroke-width="0.12" x="116.9" y="518.93" font-size="6.4" text-anchor="end" fill="#444" textLength="7.78" lengthAdjust="spacingAndGlyphs">1.6</text>
<line x1="123" y1="595.2" x2="223.2" y2="595.2" stroke="#222" stroke-width="1"/>
<rect x="124.4" y="546.1" width="3" height="49.1" fill="#0c4680"/>
<circle cx="125.9" cy="546.3" r="0.9" fill="#111"/>
<line x1="124.55" y1="546.45" x2="127.25" y2="546.45" stroke="#1a1a1a" stroke-width="0.7"/>
<line x1="125.9" y1="595.2" x2="125.9" y2="597.4" stroke="#222" stroke-width="1"/>
<text stroke="#3a3a3a" stroke-width="0.08" x="125.9" y="606" font-size="6" text-anchor="middle" fill="#3a3a3a">0</text>
<rect x="128.28" y="546.1" width="3" height="49.1" fill="#0c4680"/>
<line x1="129.78" y1="555.92" x2="129.78" y2="536.28" stroke="#2a2a2a" stroke-width="0.7"/>
<line x1="128.98" y1="536.28" x2="130.58" y2="536.28" stroke="#1a1a1a" stroke-width="0.6"/>
<circle cx="129.78" cy="536.68" r="0.9" fill="#111"/>
<circle cx="129.78" cy="552.97" r="0.9" fill="#111"/>
<circle cx="129.78" cy="544.14" r="0.9" fill="#111"/>
<line x1="128.43" y1="546.45" x2="131.13" y2="546.45" stroke="#1a1a1a" stroke-width="0.7"/>
<line x1="129.78" y1="595.2" x2="129.78" y2="597.4" stroke="#222" stroke-width="1"/>
<text stroke="#3a3a3a" stroke-width="0.08" x="129.78" y="606" font-size="6" text-anchor="middle" fill="#3a3a3a">1</text>
<rect x="132.16" y="546.1" width="3" height="49.1" fill="#0c4680"/>
<line x1="133.66" y1="547.08" x2="133.66" y2="545.12" stroke="#2a2a2a" stroke-width="0.7"/>
<line x1="132.86" y1="545.12" x2="134.46" y2="545.12" stroke="#1a1a1a" stroke-width="0.6"/>
<circle cx="133.66" cy="545.52" r="0.9" fill="#111"/>
<circle cx="133.66" cy="546.79" r="0.9" fill="#111"/>
<circle cx="133.66" cy="545.9" r="0.9" fill="#111"/>
<line x1="132.31" y1="546.45" x2="135.01" y2="546.45" stroke="#1a1a1a" stroke-width="0.7"/>
<line x1="133.66" y1="595.2" x2="133.66" y2="597.4" stroke="#222" stroke-width="1"/>
<text stroke="#3a3a3a" stroke-width="0.08" x="133.66" y="606" font-size="6" text-anchor="middle" fill="#3a3a3a">2</text>
<rect x="136.04" y="546.1" width="3" height="49.1" fill="#0c4680"/>
<line x1="137.54" y1="556.9" x2="137.54" y2="535.3" stroke="#2a2a2a" stroke-width="0.7"/>
<line x1="136.74" y1="535.3" x2="138.34" y2="535.3" stroke="#1a1a1a" stroke-width="0.6"/>
<circle cx="137.54" cy="535.7" r="0.9" fill="#111"/>
<circle cx="137.54" cy="553.66" r="0.9" fill="#111"/>
<circle cx="137.54" cy="543.94" r="0.9" fill="#111"/>
<line x1="136.19" y1="546.45" x2="138.89" y2="546.45" stroke="#1a1a1a" stroke-width="0.7"/>
<line x1="137.54" y1="595.2" x2="137.54" y2="597.4" stroke="#222" stroke-width="1"/>
<text stroke="#3a3a3a" stroke-width="0.08" x="137.54" y="606" font-size="6" text-anchor="middle" fill="#3a3a3a">3</text>
<rect x="139.92" y="546.1" width="3" height="49.1" fill="#0c4680"/>
<line x1="141.42" y1="550.03" x2="141.42" y2="542.17" stroke="#2a2a2a" stroke-width="0.7"/>
<line x1="140.62" y1="542.17" x2="142.22" y2="542.17" stroke="#1a1a1a" stroke-width="0.6"/>
<circle cx="141.42" cy="542.57" r="0.9" fill="#111"/>
<circle cx="141.42" cy="548.85" r="0.9" fill="#111"/>
<circle cx="141.42" cy="545.31" r="0.9" fill="#111"/>
<line x1="140.07" y1="546.45" x2="142.77" y2="546.45" stroke="#1a1a1a" stroke-width="0.7"/>
<line x1="141.42" y1="595.2" x2="141.42" y2="597.4" stroke="#222" stroke-width="1"/>
<text stroke="#3a3a3a" stroke-width="0.08" x="141.42" y="606" font-size="6" text-anchor="middle" fill="#3a3a3a">4</text>
<rect x="143.8" y="546.1" width="3" height="49.1" fill="#0c4680"/>
<line x1="145.3" y1="551.99" x2="145.3" y2="540.21" stroke="#2a2a2a" stroke-width="0.7"/>
<line x1="144.5" y1="540.21" x2="146.1" y2="540.21" stroke="#1a1a1a" stroke-width="0.6"/>
<circle cx="145.3" cy="540.61" r="0.9" fill="#111"/>
<circle cx="145.3" cy="550.22" r="0.9" fill="#111"/>
<circle cx="145.3" cy="544.92" r="0.9" fill="#111"/>
<line x1="143.95" y1="546.45" x2="146.65" y2="546.45" stroke="#1a1a1a" stroke-width="0.7"/>
<line x1="145.3" y1="595.2" x2="145.3" y2="597.4" stroke="#222" stroke-width="1"/>
<text stroke="#3a3a3a" stroke-width="0.08" x="145.3" y="606" font-size="6" text-anchor="middle" fill="#3a3a3a">5</text>
<rect x="150" y="546.1" width="3" height="49.1" fill="#b8072a"/>
<circle cx="151.5" cy="546.3" r="0.9" fill="#111"/>
<line x1="150.15" y1="546.45" x2="152.85" y2="546.45" stroke="#1a1a1a" stroke-width="0.7"/>
<line x1="151.5" y1="595.2" x2="151.5" y2="597.4" stroke="#222" stroke-width="1"/>
<text stroke="#3a3a3a" stroke-width="0.08" x="151.5" y="606" font-size="6" text-anchor="middle" fill="#3a3a3a">0</text>
<rect x="153.88" y="560.34" width="3" height="34.86" fill="#b8072a"/>
<line x1="155.38" y1="564.27" x2="155.38" y2="556.41" stroke="#2a2a2a" stroke-width="0.7"/>
<line x1="154.58" y1="556.41" x2="156.18" y2="556.41" stroke="#1a1a1a" stroke-width="0.6"/>
<circle cx="155.38" cy="556.81" r="0.9" fill="#111"/>
<circle cx="155.38" cy="563.09" r="0.9" fill="#111"/>
<circle cx="155.38" cy="559.55" r="0.9" fill="#111"/>
<line x1="154.03" y1="560.69" x2="156.73" y2="560.69" stroke="#1a1a1a" stroke-width="0.7"/>
<line x1="155.38" y1="595.2" x2="155.38" y2="597.4" stroke="#222" stroke-width="1"/>
<text stroke="#3a3a3a" stroke-width="0.08" x="155.38" y="606" font-size="6" text-anchor="middle" fill="#3a3a3a">1</text>
<rect x="157.76" y="566.72" width="3" height="28.48" fill="#b8072a"/>
<line x1="159.26" y1="567.7" x2="159.26" y2="565.74" stroke="#2a2a2a" stroke-width="0.7"/>
<line x1="158.46" y1="565.74" x2="160.06" y2="565.74" stroke="#1a1a1a" stroke-width="0.6"/>
<circle cx="159.26" cy="566.14" r="0.9" fill="#111"/>
<circle cx="159.26" cy="567.41" r="0.9" fill="#111"/>
<circle cx="159.26" cy="566.53" r="0.9" fill="#111"/>
<line x1="157.91" y1="567.07" x2="160.61" y2="567.07" stroke="#1a1a1a" stroke-width="0.7"/>
<line x1="159.26" y1="595.2" x2="159.26" y2="597.4" stroke="#222" stroke-width="1"/>
<text stroke="#3a3a3a" stroke-width="0.08" x="159.26" y="606" font-size="6" text-anchor="middle" fill="#3a3a3a">2</text>
<rect x="161.64" y="579.49" width="3" height="15.71" fill="#b8072a"/>
<line x1="163.14" y1="581.94" x2="163.14" y2="577.03" stroke="#2a2a2a" stroke-width="0.7"/>
<line x1="162.34" y1="577.03" x2="163.94" y2="577.03" stroke="#1a1a1a" stroke-width="0.6"/>
<circle cx="163.14" cy="577.43" r="0.9" fill="#111"/>
<circle cx="163.14" cy="581.21" r="0.9" fill="#111"/>
<circle cx="163.14" cy="579" r="0.9" fill="#111"/>
<line x1="161.79" y1="579.84" x2="164.49" y2="579.84" stroke="#1a1a1a" stroke-width="0.7"/>
<line x1="163.14" y1="595.2" x2="163.14" y2="597.4" stroke="#222" stroke-width="1"/>
<text stroke="#3a3a3a" stroke-width="0.08" x="163.14" y="606" font-size="6" text-anchor="middle" fill="#3a3a3a">3</text>
<rect x="165.52" y="585.38" width="3" height="9.82" fill="#b8072a"/>
<line x1="167.02" y1="586.36" x2="167.02" y2="584.4" stroke="#2a2a2a" stroke-width="0.7"/>
<line x1="166.22" y1="584.4" x2="167.82" y2="584.4" stroke="#1a1a1a" stroke-width="0.6"/>
<circle cx="167.02" cy="584.8" r="0.9" fill="#111"/>
<circle cx="167.02" cy="586.07" r="0.9" fill="#111"/>
<circle cx="167.02" cy="585.18" r="0.9" fill="#111"/>
<line x1="165.67" y1="585.73" x2="168.37" y2="585.73" stroke="#1a1a1a" stroke-width="0.7"/>
<line x1="167.02" y1="595.2" x2="167.02" y2="597.4" stroke="#222" stroke-width="1"/>
<text stroke="#3a3a3a" stroke-width="0.08" x="167.02" y="606" font-size="6" text-anchor="middle" fill="#3a3a3a">4</text>
<rect x="169.4" y="586.36" width="3" height="8.84" fill="#b8072a"/>
<line x1="170.9" y1="594.2" x2="170.9" y2="575.56" stroke="#2a2a2a" stroke-width="0.7"/>
<line x1="170.1" y1="575.56" x2="171.7" y2="575.56" stroke="#1a1a1a" stroke-width="0.6"/>
<circle cx="170.9" cy="575.96" r="0.9" fill="#111"/>
<circle cx="170.9" cy="593.92" r="0.9" fill="#111"/>
<circle cx="170.9" cy="584.2" r="0.9" fill="#111"/>
<line x1="169.55" y1="586.71" x2="172.25" y2="586.71" stroke="#1a1a1a" stroke-width="0.7"/>
<line x1="170.9" y1="595.2" x2="170.9" y2="597.4" stroke="#222" stroke-width="1"/>
<text stroke="#3a3a3a" stroke-width="0.08" x="170.9" y="606" font-size="6" text-anchor="middle" fill="#3a3a3a">5</text>
<rect x="175.5" y="546.1" width="3" height="49.1" fill="#ee9418"/>
<circle cx="177" cy="546.3" r="0.9" fill="#111"/>
<line x1="175.65" y1="546.45" x2="178.35" y2="546.45" stroke="#1a1a1a" stroke-width="0.7"/>
<line x1="177" y1="595.2" x2="177" y2="597.4" stroke="#222" stroke-width="1"/>
<text stroke="#3a3a3a" stroke-width="0.08" x="177" y="606" font-size="6" text-anchor="middle" fill="#3a3a3a">0</text>
<rect x="179.38" y="547.57" width="3" height="47.63" fill="#ee9418"/>
<line x1="180.88" y1="559.85" x2="180.88" y2="535.3" stroke="#2a2a2a" stroke-width="0.7"/>
<line x1="180.08" y1="535.3" x2="181.68" y2="535.3" stroke="#1a1a1a" stroke-width="0.6"/>
<circle cx="180.88" cy="535.7" r="0.9" fill="#111"/>
<circle cx="180.88" cy="556.17" r="0.9" fill="#111"/>
<circle cx="180.88" cy="545.12" r="0.9" fill="#111"/>
<line x1="179.53" y1="547.92" x2="182.23" y2="547.92" stroke="#1a1a1a" stroke-width="0.7"/>
<line x1="180.88" y1="595.2" x2="180.88" y2="597.4" stroke="#222" stroke-width="1"/>
<text stroke="#3a3a3a" stroke-width="0.08" x="180.88" y="606" font-size="6" text-anchor="middle" fill="#3a3a3a">1</text>
<rect x="183.26" y="540.21" width="3" height="54.99" fill="#ee9418"/>
<line x1="184.76" y1="547.08" x2="184.76" y2="533.33" stroke="#2a2a2a" stroke-width="0.7"/>
<line x1="183.96" y1="533.33" x2="185.56" y2="533.33" stroke="#1a1a1a" stroke-width="0.6"/>
<circle cx="184.76" cy="533.73" r="0.9" fill="#111"/>
<circle cx="184.76" cy="545.02" r="0.9" fill="#111"/>
<circle cx="184.76" cy="538.83" r="0.9" fill="#111"/>
<line x1="183.41" y1="540.56" x2="186.11" y2="540.56" stroke="#1a1a1a" stroke-width="0.7"/>
<line x1="184.76" y1="595.2" x2="184.76" y2="597.4" stroke="#222" stroke-width="1"/>
<text stroke="#3a3a3a" stroke-width="0.08" x="184.76" y="606" font-size="6" text-anchor="middle" fill="#3a3a3a">2</text>
<rect x="187.14" y="530.88" width="3" height="64.32" fill="#ee9418"/>
<line x1="188.64" y1="535.79" x2="188.64" y2="525.97" stroke="#2a2a2a" stroke-width="0.7"/>
<line x1="187.84" y1="525.97" x2="189.44" y2="525.97" stroke="#1a1a1a" stroke-width="0.6"/>
<circle cx="188.64" cy="526.37" r="0.9" fill="#111"/>
<circle cx="188.64" cy="534.32" r="0.9" fill="#111"/>
<circle cx="188.64" cy="529.9" r="0.9" fill="#111"/>
<line x1="187.29" y1="531.23" x2="189.99" y2="531.23" stroke="#1a1a1a" stroke-width="0.7"/>
<line x1="188.64" y1="595.2" x2="188.64" y2="597.4" stroke="#222" stroke-width="1"/>
<text stroke="#3a3a3a" stroke-width="0.08" x="188.64" y="606" font-size="6" text-anchor="middle" fill="#3a3a3a">3</text>
<rect x="191.02" y="540.21" width="3" height="54.99" fill="#ee9418"/>
<line x1="192.52" y1="549.54" x2="192.52" y2="530.88" stroke="#2a2a2a" stroke-width="0.7"/>
<line x1="191.72" y1="530.88" x2="193.32" y2="530.88" stroke="#1a1a1a" stroke-width="0.6"/>
<circle cx="192.52" cy="531.28" r="0.9" fill="#111"/>
<circle cx="192.52" cy="546.74" r="0.9" fill="#111"/>
<circle cx="192.52" cy="538.34" r="0.9" fill="#111"/>
<line x1="191.17" y1="540.56" x2="193.87" y2="540.56" stroke="#1a1a1a" stroke-width="0.7"/>
<line x1="192.52" y1="595.2" x2="192.52" y2="597.4" stroke="#222" stroke-width="1"/>
<text stroke="#3a3a3a" stroke-width="0.08" x="192.52" y="606" font-size="6" text-anchor="middle" fill="#3a3a3a">4</text>
<rect x="194.9" y="541.68" width="3" height="53.52" fill="#ee9418"/>
<line x1="196.4" y1="547.57" x2="196.4" y2="535.79" stroke="#2a2a2a" stroke-width="0.7"/>
<line x1="195.6" y1="535.79" x2="197.2" y2="535.79" stroke="#1a1a1a" stroke-width="0.6"/>
<circle cx="196.4" cy="536.19" r="0.9" fill="#111"/>
<circle cx="196.4" cy="545.81" r="0.9" fill="#111"/>
<circle cx="196.4" cy="540.5" r="0.9" fill="#111"/>
<line x1="195.05" y1="542.03" x2="197.75" y2="542.03" stroke="#1a1a1a" stroke-width="0.7"/>
<line x1="196.4" y1="595.2" x2="196.4" y2="597.4" stroke="#222" stroke-width="1"/>
<text stroke="#3a3a3a" stroke-width="0.08" x="196.4" y="606" font-size="6" text-anchor="middle" fill="#3a3a3a">5</text>
<rect x="201.2" y="546.1" width="3" height="49.1" fill="#32a034"/>
<circle cx="202.7" cy="546.3" r="0.9" fill="#111"/>
<line x1="201.35" y1="546.45" x2="204.05" y2="546.45" stroke="#1a1a1a" stroke-width="0.7"/>
<line x1="202.7" y1="595.2" x2="202.7" y2="597.4" stroke="#222" stroke-width="1"/>
<text stroke="#3a3a3a" stroke-width="0.08" x="202.7" y="606" font-size="6" text-anchor="middle" fill="#3a3a3a">0</text>
<rect x="205.08" y="551.99" width="3" height="43.21" fill="#32a034"/>
<line x1="206.58" y1="570.65" x2="206.58" y2="533.33" stroke="#2a2a2a" stroke-width="0.7"/>
<line x1="205.78" y1="533.33" x2="207.38" y2="533.33" stroke="#1a1a1a" stroke-width="0.6"/>
<circle cx="206.58" cy="533.73" r="0.9" fill="#111"/>
<circle cx="206.58" cy="565.05" r="0.9" fill="#111"/>
<circle cx="206.58" cy="548.26" r="0.9" fill="#111"/>
<line x1="205.23" y1="552.34" x2="207.93" y2="552.34" stroke="#1a1a1a" stroke-width="0.7"/>
<line x1="206.58" y1="595.2" x2="206.58" y2="597.4" stroke="#222" stroke-width="1"/>
<text stroke="#3a3a3a" stroke-width="0.08" x="206.58" y="606" font-size="6" text-anchor="middle" fill="#3a3a3a">1</text>
<rect x="208.96" y="556.9" width="3" height="38.3" fill="#32a034"/>
<line x1="210.46" y1="563.29" x2="210.46" y2="550.52" stroke="#2a2a2a" stroke-width="0.7"/>
<line x1="209.66" y1="550.52" x2="211.26" y2="550.52" stroke="#1a1a1a" stroke-width="0.6"/>
<circle cx="210.46" cy="550.92" r="0.9" fill="#111"/>
<circle cx="210.46" cy="561.37" r="0.9" fill="#111"/>
<circle cx="210.46" cy="555.63" r="0.9" fill="#111"/>
<line x1="209.11" y1="557.25" x2="211.81" y2="557.25" stroke="#1a1a1a" stroke-width="0.7"/>
<line x1="210.46" y1="595.2" x2="210.46" y2="597.4" stroke="#222" stroke-width="1"/>
<text stroke="#3a3a3a" stroke-width="0.08" x="210.46" y="606" font-size="6" text-anchor="middle" fill="#3a3a3a">2</text>
<rect x="212.84" y="552.97" width="3" height="42.23" fill="#32a034"/>
<line x1="214.34" y1="558.87" x2="214.34" y2="547.08" stroke="#2a2a2a" stroke-width="0.7"/>
<line x1="213.54" y1="547.08" x2="215.14" y2="547.08" stroke="#1a1a1a" stroke-width="0.6"/>
<circle cx="214.34" cy="547.48" r="0.9" fill="#111"/>
<circle cx="214.34" cy="557.1" r="0.9" fill="#111"/>
<circle cx="214.34" cy="551.8" r="0.9" fill="#111"/>
<line x1="212.99" y1="553.32" x2="215.69" y2="553.32" stroke="#1a1a1a" stroke-width="0.7"/>
<line x1="214.34" y1="595.2" x2="214.34" y2="597.4" stroke="#222" stroke-width="1"/>
<text stroke="#3a3a3a" stroke-width="0.08" x="214.34" y="606" font-size="6" text-anchor="middle" fill="#3a3a3a">3</text>
<rect x="216.72" y="565.25" width="3" height="29.95" fill="#32a034"/>
<line x1="218.22" y1="584.4" x2="218.22" y2="546.1" stroke="#2a2a2a" stroke-width="0.7"/>
<line x1="217.42" y1="546.1" x2="219.02" y2="546.1" stroke="#1a1a1a" stroke-width="0.6"/>
<circle cx="218.22" cy="546.5" r="0.9" fill="#111"/>
<circle cx="218.22" cy="578.65" r="0.9" fill="#111"/>
<circle cx="218.22" cy="561.42" r="0.9" fill="#111"/>
<line x1="216.87" y1="565.6" x2="219.57" y2="565.6" stroke="#1a1a1a" stroke-width="0.7"/>
<line x1="218.22" y1="595.2" x2="218.22" y2="597.4" stroke="#222" stroke-width="1"/>
<text stroke="#3a3a3a" stroke-width="0.08" x="218.22" y="606" font-size="6" text-anchor="middle" fill="#3a3a3a">4</text>
<rect x="220.6" y="559.36" width="3" height="35.84" fill="#32a034"/>
<line x1="222.1" y1="571.14" x2="222.1" y2="547.57" stroke="#2a2a2a" stroke-width="0.7"/>
<line x1="221.3" y1="547.57" x2="222.9" y2="547.57" stroke="#1a1a1a" stroke-width="0.6"/>
<circle cx="222.1" cy="547.97" r="0.9" fill="#111"/>
<circle cx="222.1" cy="567.61" r="0.9" fill="#111"/>
<circle cx="222.1" cy="557" r="0.9" fill="#111"/>
<line x1="220.75" y1="559.71" x2="223.45" y2="559.71" stroke="#1a1a1a" stroke-width="0.7"/>
<line x1="222.1" y1="595.2" x2="222.1" y2="597.4" stroke="#222" stroke-width="1"/>
<text stroke="#3a3a3a" stroke-width="0.08" x="222.1" y="606" font-size="6" text-anchor="middle" fill="#3a3a3a">5</text>
<text stroke="#333" stroke-width="0.22" x="149.7" y="509.4" font-size="8.2" fill="#333" textLength="47.3" lengthAdjust="spacingAndGlyphs">WSU-DLCL-2</text>
<line x1="170.2" y1="522.7" x2="221.3" y2="522.7" stroke="#6a6a6a" stroke-width="1.1"/>
<text stroke="#4a4a4a" stroke-width="0.22" x="182.2" y="521.3" font-size="5.9" fill="#4a4a4a" textLength="26.5" lengthAdjust="spacingAndGlyphs"><tspan font-style="italic">P</tspan> = .0005</text>
<text stroke="#2a2a2a" stroke-width="0.3" x="162.5" y="617.6" font-size="8" fill="#2a2a2a" textLength="21.3" lengthAdjust="spacingAndGlyphs">Time [d]</text>
<text stroke="#2a2a2a" stroke-width="0.3" transform="translate(103.94,554.6) rotate(-90)" font-size="7.6" text-anchor="middle" fill="#2a2a2a" textLength="53" lengthAdjust="spacingAndGlyphs">Normalized cell count</text>
<line x1="258.5" y1="514.02" x2="258.5" y2="595.8" stroke="#222" stroke-width="1"/>
<line x1="255.8" y1="595.3" x2="258.8" y2="595.3" stroke="#222" stroke-width="1"/>
<text stroke="#444" stroke-width="0.12" x="252.7" y="597.59" font-size="6.4" text-anchor="end" fill="#444" textLength="7.78" lengthAdjust="spacingAndGlyphs">0.0</text>
<line x1="255.8" y1="585.44" x2="258.8" y2="585.44" stroke="#222" stroke-width="1"/>
<text stroke="#444" stroke-width="0.12" x="252.7" y="587.73" font-size="6.4" text-anchor="end" fill="#444" textLength="7.78" lengthAdjust="spacingAndGlyphs">0.2</text>
<line x1="255.8" y1="575.58" x2="258.8" y2="575.58" stroke="#222" stroke-width="1"/>
<text stroke="#444" stroke-width="0.12" x="252.7" y="577.87" font-size="6.4" text-anchor="end" fill="#444" textLength="7.78" lengthAdjust="spacingAndGlyphs">0.4</text>
<line x1="255.8" y1="565.72" x2="258.8" y2="565.72" stroke="#222" stroke-width="1"/>
<text stroke="#444" stroke-width="0.12" x="252.7" y="568.01" font-size="6.4" text-anchor="end" fill="#444" textLength="7.78" lengthAdjust="spacingAndGlyphs">0.6</text>
<line x1="255.8" y1="555.86" x2="258.8" y2="555.86" stroke="#222" stroke-width="1"/>
<text stroke="#444" stroke-width="0.12" x="252.7" y="558.15" font-size="6.4" text-anchor="end" fill="#444" textLength="7.78" lengthAdjust="spacingAndGlyphs">0.8</text>
<line x1="255.8" y1="546" x2="258.8" y2="546" stroke="#222" stroke-width="1"/>
<text stroke="#444" stroke-width="0.12" x="252.7" y="548.29" font-size="6.4" text-anchor="end" fill="#444" textLength="7.78" lengthAdjust="spacingAndGlyphs">1.0</text>
<line x1="255.8" y1="536.14" x2="258.8" y2="536.14" stroke="#222" stroke-width="1"/>
<text stroke="#444" stroke-width="0.12" x="252.7" y="538.43" font-size="6.4" text-anchor="end" fill="#444" textLength="7.78" lengthAdjust="spacingAndGlyphs">1.2</text>
<line x1="255.8" y1="526.28" x2="258.8" y2="526.28" stroke="#222" stroke-width="1"/>
<text stroke="#444" stroke-width="0.12" x="252.7" y="528.57" font-size="6.4" text-anchor="end" fill="#444" textLength="7.78" lengthAdjust="spacingAndGlyphs">1.4</text>
<line x1="255.8" y1="516.42" x2="258.8" y2="516.42" stroke="#222" stroke-width="1"/>
<text stroke="#444" stroke-width="0.12" x="252.7" y="518.71" font-size="6.4" text-anchor="end" fill="#444" textLength="7.78" lengthAdjust="spacingAndGlyphs">1.6</text>
<line x1="258.8" y1="595.3" x2="359" y2="595.3" stroke="#222" stroke-width="1"/>
<rect x="260" y="546" width="3" height="49.3" fill="#0c4680"/>
<circle cx="261.5" cy="546.2" r="0.9" fill="#111"/>
<line x1="260.15" y1="546.35" x2="262.85" y2="546.35" stroke="#1a1a1a" stroke-width="0.7"/>
<line x1="261.5" y1="595.3" x2="261.5" y2="597.5" stroke="#222" stroke-width="1"/>
<text stroke="#3a3a3a" stroke-width="0.08" x="261.5" y="606" font-size="6" text-anchor="middle" fill="#3a3a3a">0</text>
<rect x="263.85" y="546" width="3" height="49.3" fill="#0c4680"/>
<line x1="265.35" y1="549.94" x2="265.35" y2="542.06" stroke="#2a2a2a" stroke-width="0.7"/>
<line x1="264.55" y1="542.06" x2="266.15" y2="542.06" stroke="#1a1a1a" stroke-width="0.6"/>
<circle cx="265.35" cy="542.46" r="0.9" fill="#111"/>
<circle cx="265.35" cy="548.76" r="0.9" fill="#111"/>
<circle cx="265.35" cy="545.21" r="0.9" fill="#111"/>
<line x1="264" y1="546.35" x2="266.7" y2="546.35" stroke="#1a1a1a" stroke-width="0.7"/>
<line x1="265.35" y1="595.3" x2="265.35" y2="597.5" stroke="#222" stroke-width="1"/>
<text stroke="#3a3a3a" stroke-width="0.08" x="265.35" y="606" font-size="6" text-anchor="middle" fill="#3a3a3a">1</text>
<rect x="267.7" y="546" width="3" height="49.3" fill="#0c4680"/>
<line x1="269.2" y1="551.92" x2="269.2" y2="540.08" stroke="#2a2a2a" stroke-width="0.7"/>
<line x1="268.4" y1="540.08" x2="270" y2="540.08" stroke="#1a1a1a" stroke-width="0.6"/>
<circle cx="269.2" cy="540.48" r="0.9" fill="#111"/>
<circle cx="269.2" cy="550.14" r="0.9" fill="#111"/>
<circle cx="269.2" cy="544.82" r="0.9" fill="#111"/>
<line x1="267.85" y1="546.35" x2="270.55" y2="546.35" stroke="#1a1a1a" stroke-width="0.7"/>
<line x1="269.2" y1="595.3" x2="269.2" y2="597.5" stroke="#222" stroke-width="1"/>
<text stroke="#3a3a3a" stroke-width="0.08" x="269.2" y="606" font-size="6" text-anchor="middle" fill="#3a3a3a">2</text>
<rect x="271.55" y="546" width="3" height="49.3" fill="#0c4680"/>
<line x1="273.05" y1="557.83" x2="273.05" y2="534.17" stroke="#2a2a2a" stroke-width="0.7"/>
<line x1="272.25" y1="534.17" x2="273.85" y2="534.17" stroke="#1a1a1a" stroke-width="0.6"/>
<circle cx="273.05" cy="534.57" r="0.9" fill="#111"/>
<circle cx="273.05" cy="554.28" r="0.9" fill="#111"/>
<circle cx="273.05" cy="543.63" r="0.9" fill="#111"/>
<line x1="271.7" y1="546.35" x2="274.4" y2="546.35" stroke="#1a1a1a" stroke-width="0.7"/>
<line x1="273.05" y1="595.3" x2="273.05" y2="597.5" stroke="#222" stroke-width="1"/>
<text stroke="#3a3a3a" stroke-width="0.08" x="273.05" y="606" font-size="6" text-anchor="middle" fill="#3a3a3a">3</text>
<rect x="275.4" y="546" width="3" height="49.3" fill="#0c4680"/>
<line x1="276.9" y1="555.86" x2="276.9" y2="536.14" stroke="#2a2a2a" stroke-width="0.7"/>
<line x1="276.1" y1="536.14" x2="277.7" y2="536.14" stroke="#1a1a1a" stroke-width="0.6"/>
<circle cx="276.9" cy="536.54" r="0.9" fill="#111"/>
<circle cx="276.9" cy="552.9" r="0.9" fill="#111"/>
<circle cx="276.9" cy="544.03" r="0.9" fill="#111"/>
<line x1="275.55" y1="546.35" x2="278.25" y2="546.35" stroke="#1a1a1a" stroke-width="0.7"/>
<line x1="276.9" y1="595.3" x2="276.9" y2="597.5" stroke="#222" stroke-width="1"/>
<text stroke="#3a3a3a" stroke-width="0.08" x="276.9" y="606" font-size="6" text-anchor="middle" fill="#3a3a3a">4</text>
<rect x="279.25" y="546" width="3" height="49.3" fill="#0c4680"/>
<line x1="280.75" y1="548.96" x2="280.75" y2="543.04" stroke="#2a2a2a" stroke-width="0.7"/>
<line x1="279.95" y1="543.04" x2="281.55" y2="543.04" stroke="#1a1a1a" stroke-width="0.6"/>
<circle cx="280.75" cy="543.44" r="0.9" fill="#111"/>
<circle cx="280.75" cy="548.07" r="0.9" fill="#111"/>
<circle cx="280.75" cy="545.41" r="0.9" fill="#111"/>
<line x1="279.4" y1="546.35" x2="282.1" y2="546.35" stroke="#1a1a1a" stroke-width="0.7"/>
<line x1="280.75" y1="595.3" x2="280.75" y2="597.5" stroke="#222" stroke-width="1"/>
<text stroke="#3a3a3a" stroke-width="0.08" x="280.75" y="606" font-size="6" text-anchor="middle" fill="#3a3a3a">5</text>
<rect x="285.8" y="546" width="3" height="49.3" fill="#b8072a"/>
<circle cx="287.3" cy="546.2" r="0.9" fill="#111"/>
<line x1="285.95" y1="546.35" x2="288.65" y2="546.35" stroke="#1a1a1a" stroke-width="0.7"/>
<line x1="287.3" y1="595.3" x2="287.3" y2="597.5" stroke="#222" stroke-width="1"/>
<text stroke="#3a3a3a" stroke-width="0.08" x="287.3" y="606" font-size="6" text-anchor="middle" fill="#3a3a3a">0</text>
<rect x="289.65" y="550.93" width="3" height="44.37" fill="#b8072a"/>
<line x1="291.15" y1="552.9" x2="291.15" y2="548.96" stroke="#2a2a2a" stroke-width="0.7"/>
<line x1="290.35" y1="548.96" x2="291.95" y2="548.96" stroke="#1a1a1a" stroke-width="0.6"/>
<circle cx="291.15" cy="549.36" r="0.9" fill="#111"/>
<circle cx="291.15" cy="552.31" r="0.9" fill="#111"/>
<circle cx="291.15" cy="550.54" r="0.9" fill="#111"/>
<line x1="289.8" y1="551.28" x2="292.5" y2="551.28" stroke="#1a1a1a" stroke-width="0.7"/>
<line x1="291.15" y1="595.3" x2="291.15" y2="597.5" stroke="#222" stroke-width="1"/>
<text stroke="#3a3a3a" stroke-width="0.08" x="291.15" y="606" font-size="6" text-anchor="middle" fill="#3a3a3a">1</text>
<rect x="293.5" y="576.57" width="3" height="18.73" fill="#b8072a"/>
<line x1="295" y1="577.55" x2="295" y2="575.58" stroke="#2a2a2a" stroke-width="0.7"/>
<line x1="294.2" y1="575.58" x2="295.8" y2="575.58" stroke="#1a1a1a" stroke-width="0.6"/>
<circle cx="295" cy="575.98" r="0.9" fill="#111"/>
<circle cx="295" cy="577.26" r="0.9" fill="#111"/>
<circle cx="295" cy="576.37" r="0.9" fill="#111"/>
<line x1="293.65" y1="576.92" x2="296.35" y2="576.92" stroke="#1a1a1a" stroke-width="0.7"/>
<line x1="295" y1="595.3" x2="295" y2="597.5" stroke="#222" stroke-width="1"/>
<text stroke="#3a3a3a" stroke-width="0.08" x="295" y="606" font-size="6" text-anchor="middle" fill="#3a3a3a">2</text>
<rect x="297.35" y="585.44" width="3" height="9.86" fill="#b8072a"/>
<line x1="298.85" y1="586.43" x2="298.85" y2="584.45" stroke="#2a2a2a" stroke-width="0.7"/>
<line x1="298.05" y1="584.45" x2="299.65" y2="584.45" stroke="#1a1a1a" stroke-width="0.6"/>
<circle cx="298.85" cy="584.85" r="0.9" fill="#111"/>
<circle cx="298.85" cy="586.13" r="0.9" fill="#111"/>
<circle cx="298.85" cy="585.24" r="0.9" fill="#111"/>
<line x1="297.5" y1="585.79" x2="300.2" y2="585.79" stroke="#1a1a1a" stroke-width="0.7"/>
<line x1="298.85" y1="595.3" x2="298.85" y2="597.5" stroke="#222" stroke-width="1"/>
<text stroke="#3a3a3a" stroke-width="0.08" x="298.85" y="606" font-size="6" text-anchor="middle" fill="#3a3a3a">3</text>
<rect x="301.2" y="592.34" width="3" height="2.96" fill="#b8072a"/>
<line x1="302.7" y1="592.84" x2="302.7" y2="591.85" stroke="#2a2a2a" stroke-width="0.7"/>
<line x1="301.9" y1="591.85" x2="303.5" y2="591.85" stroke="#1a1a1a" stroke-width="0.6"/>
<circle cx="302.7" cy="592.25" r="0.9" fill="#111"/>
<circle cx="302.7" cy="592.69" r="0.9" fill="#111"/>
<circle cx="302.7" cy="592.24" r="0.9" fill="#111"/>
<line x1="301.35" y1="592.69" x2="304.05" y2="592.69" stroke="#1a1a1a" stroke-width="0.7"/>
<line x1="302.7" y1="595.3" x2="302.7" y2="597.5" stroke="#222" stroke-width="1"/>
<text stroke="#3a3a3a" stroke-width="0.08" x="302.7" y="606" font-size="6" text-anchor="middle" fill="#3a3a3a">4</text>
<rect x="305.05" y="593.33" width="3" height="1.97" fill="#b8072a"/>
<line x1="306.55" y1="593.82" x2="306.55" y2="592.83" stroke="#2a2a2a" stroke-width="0.7"/>
<line x1="305.75" y1="592.83" x2="307.35" y2="592.83" stroke="#1a1a1a" stroke-width="0.6"/>
<circle cx="306.55" cy="593.23" r="0.9" fill="#111"/>
<circle cx="306.55" cy="593.67" r="0.9" fill="#111"/>
<circle cx="306.55" cy="593.23" r="0.9" fill="#111"/>
<line x1="305.2" y1="593.68" x2="307.9" y2="593.68" stroke="#1a1a1a" stroke-width="0.7"/>
<line x1="306.55" y1="595.3" x2="306.55" y2="597.5" stroke="#222" stroke-width="1"/>
<text stroke="#3a3a3a" stroke-width="0.08" x="306.55" y="606" font-size="6" text-anchor="middle" fill="#3a3a3a">5</text>
<rect x="311.3" y="546" width="3" height="49.3" fill="#ee9418"/>
<circle cx="312.8" cy="546.2" r="0.9" fill="#111"/>
<line x1="311.45" y1="546.35" x2="314.15" y2="546.35" stroke="#1a1a1a" stroke-width="0.7"/>
<line x1="312.8" y1="595.3" x2="312.8" y2="597.5" stroke="#222" stroke-width="1"/>
<text stroke="#3a3a3a" stroke-width="0.08" x="312.8" y="606" font-size="6" text-anchor="middle" fill="#3a3a3a">0</text>
<rect x="315.15" y="549.94" width="3" height="45.36" fill="#ee9418"/>
<line x1="316.65" y1="561.28" x2="316.65" y2="538.61" stroke="#2a2a2a" stroke-width="0.7"/>
<line x1="315.85" y1="538.61" x2="317.45" y2="538.61" stroke="#1a1a1a" stroke-width="0.6"/>
<circle cx="316.65" cy="539" r="0.9" fill="#111"/>
<circle cx="316.65" cy="557.88" r="0.9" fill="#111"/>
<circle cx="316.65" cy="547.68" r="0.9" fill="#111"/>
<line x1="315.3" y1="550.29" x2="318" y2="550.29" stroke="#1a1a1a" stroke-width="0.7"/>
<line x1="316.65" y1="595.3" x2="316.65" y2="597.5" stroke="#222" stroke-width="1"/>
<text stroke="#3a3a3a" stroke-width="0.08" x="316.65" y="606" font-size="6" text-anchor="middle" fill="#3a3a3a">1</text>
<rect x="319" y="555.86" width="3" height="39.44" fill="#ee9418"/>
<line x1="320.5" y1="557.34" x2="320.5" y2="554.38" stroke="#2a2a2a" stroke-width="0.7"/>
<line x1="319.7" y1="554.38" x2="321.3" y2="554.38" stroke="#1a1a1a" stroke-width="0.6"/>
<circle cx="320.5" cy="554.78" r="0.9" fill="#111"/>
<circle cx="320.5" cy="556.9" r="0.9" fill="#111"/>
<circle cx="320.5" cy="555.56" r="0.9" fill="#111"/>
<line x1="319.15" y1="556.21" x2="321.85" y2="556.21" stroke="#1a1a1a" stroke-width="0.7"/>
<line x1="320.5" y1="595.3" x2="320.5" y2="597.5" stroke="#222" stroke-width="1"/>
<text stroke="#3a3a3a" stroke-width="0.08" x="320.5" y="606" font-size="6" text-anchor="middle" fill="#3a3a3a">2</text>
<rect x="322.85" y="544.52" width="3" height="50.78" fill="#ee9418"/>
<line x1="324.35" y1="556.35" x2="324.35" y2="532.69" stroke="#2a2a2a" stroke-width="0.7"/>
<line x1="323.55" y1="532.69" x2="325.15" y2="532.69" stroke="#1a1a1a" stroke-width="0.6"/>
<circle cx="324.35" cy="533.09" r="0.9" fill="#111"/>
<circle cx="324.35" cy="552.8" r="0.9" fill="#111"/>
<circle cx="324.35" cy="542.15" r="0.9" fill="#111"/>
<line x1="323" y1="544.87" x2="325.7" y2="544.87" stroke="#1a1a1a" stroke-width="0.7"/>
<line x1="324.35" y1="595.3" x2="324.35" y2="597.5" stroke="#222" stroke-width="1"/>
<text stroke="#3a3a3a" stroke-width="0.08" x="324.35" y="606" font-size="6" text-anchor="middle" fill="#3a3a3a">3</text>
<rect x="326.7" y="544.03" width="3" height="51.27" fill="#ee9418"/>
<line x1="328.2" y1="551.92" x2="328.2" y2="536.14" stroke="#2a2a2a" stroke-width="0.7"/>
<line x1="327.4" y1="536.14" x2="329" y2="536.14" stroke="#1a1a1a" stroke-width="0.6"/>
<circle cx="328.2" cy="536.54" r="0.9" fill="#111"/>
<circle cx="328.2" cy="549.55" r="0.9" fill="#111"/>
<circle cx="328.2" cy="542.45" r="0.9" fill="#111"/>
<line x1="326.85" y1="544.38" x2="329.55" y2="544.38" stroke="#1a1a1a" stroke-width="0.7"/>
<line x1="328.2" y1="595.3" x2="328.2" y2="597.5" stroke="#222" stroke-width="1"/>
<text stroke="#3a3a3a" stroke-width="0.08" x="328.2" y="606" font-size="6" text-anchor="middle" fill="#3a3a3a">4</text>
<rect x="330.55" y="541.07" width="3" height="54.23" fill="#ee9418"/>
<line x1="332.05" y1="548.96" x2="332.05" y2="533.18" stroke="#2a2a2a" stroke-width="0.7"/>
<line x1="331.25" y1="533.18" x2="332.85" y2="533.18" stroke="#1a1a1a" stroke-width="0.6"/>
<circle cx="332.05" cy="533.58" r="0.9" fill="#111"/>
<circle cx="332.05" cy="546.59" r="0.9" fill="#111"/>
<circle cx="332.05" cy="539.49" r="0.9" fill="#111"/>
<line x1="330.7" y1="541.42" x2="333.4" y2="541.42" stroke="#1a1a1a" stroke-width="0.7"/>
<line x1="332.05" y1="595.3" x2="332.05" y2="597.5" stroke="#222" stroke-width="1"/>
<text stroke="#3a3a3a" stroke-width="0.08" x="332.05" y="606" font-size="6" text-anchor="middle" fill="#3a3a3a">5</text>
<rect x="336.5" y="546" width="3" height="49.3" fill="#32a034"/>
<circle cx="338" cy="546.2" r="0.9" fill="#111"/>
<line x1="336.65" y1="546.35" x2="339.35" y2="546.35" stroke="#1a1a1a" stroke-width="0.7"/>
<line x1="338" y1="595.3" x2="338" y2="597.5" stroke="#222" stroke-width="1"/>
<text stroke="#3a3a3a" stroke-width="0.08" x="338" y="606" font-size="6" text-anchor="middle" fill="#3a3a3a">0</text>
<rect x="340.35" y="551.92" width="3" height="43.38" fill="#32a034"/>
<line x1="341.85" y1="560.3" x2="341.85" y2="543.53" stroke="#2a2a2a" stroke-width="0.7"/>
<line x1="341.05" y1="543.53" x2="342.65" y2="543.53" stroke="#1a1a1a" stroke-width="0.6"/>
<circle cx="341.85" cy="543.93" r="0.9" fill="#111"/>
<circle cx="341.85" cy="557.78" r="0.9" fill="#111"/>
<circle cx="341.85" cy="550.24" r="0.9" fill="#111"/>
<line x1="340.5" y1="552.27" x2="343.2" y2="552.27" stroke="#1a1a1a" stroke-width="0.7"/>
<line x1="341.85" y1="595.3" x2="341.85" y2="597.5" stroke="#222" stroke-width="1"/>
<text stroke="#3a3a3a" stroke-width="0.08" x="341.85" y="606" font-size="6" text-anchor="middle" fill="#3a3a3a">1</text>
<rect x="344.2" y="564.24" width="3" height="31.06" fill="#32a034"/>
<line x1="345.7" y1="568.68" x2="345.7" y2="559.8" stroke="#2a2a2a" stroke-width="0.7"/>
<line x1="344.9" y1="559.8" x2="346.5" y2="559.8" stroke="#1a1a1a" stroke-width="0.6"/>
<circle cx="345.7" cy="560.2" r="0.9" fill="#111"/>
<circle cx="345.7" cy="567.35" r="0.9" fill="#111"/>
<circle cx="345.7" cy="563.35" r="0.9" fill="#111"/>
<line x1="344.35" y1="564.59" x2="347.05" y2="564.59" stroke="#1a1a1a" stroke-width="0.7"/>
<line x1="345.7" y1="595.3" x2="345.7" y2="597.5" stroke="#222" stroke-width="1"/>
<text stroke="#3a3a3a" stroke-width="0.08" x="345.7" y="606" font-size="6" text-anchor="middle" fill="#3a3a3a">2</text>
<rect x="348.05" y="567.2" width="3" height="28.1" fill="#32a034"/>
<line x1="349.55" y1="572.62" x2="349.55" y2="561.78" stroke="#2a2a2a" stroke-width="0.7"/>
<line x1="348.75" y1="561.78" x2="350.35" y2="561.78" stroke="#1a1a1a" stroke-width="0.6"/>
<circle cx="349.55" cy="562.18" r="0.9" fill="#111"/>
<circle cx="349.55" cy="571" r="0.9" fill="#111"/>
<circle cx="349.55" cy="566.11" r="0.9" fill="#111"/>
<line x1="348.2" y1="567.55" x2="350.9" y2="567.55" stroke="#1a1a1a" stroke-width="0.7"/>
<line x1="349.55" y1="595.3" x2="349.55" y2="597.5" stroke="#222" stroke-width="1"/>
<text stroke="#3a3a3a" stroke-width="0.08" x="349.55" y="606" font-size="6" text-anchor="middle" fill="#3a3a3a">3</text>
<rect x="351.9" y="569.17" width="3" height="26.13" fill="#32a034"/>
<line x1="353.4" y1="577.55" x2="353.4" y2="560.79" stroke="#2a2a2a" stroke-width="0.7"/>
<line x1="352.6" y1="560.79" x2="354.2" y2="560.79" stroke="#1a1a1a" stroke-width="0.6"/>
<circle cx="353.4" cy="561.19" r="0.9" fill="#111"/>
<circle cx="353.4" cy="575.04" r="0.9" fill="#111"/>
<circle cx="353.4" cy="567.49" r="0.9" fill="#111"/>
<line x1="352.05" y1="569.52" x2="354.75" y2="569.52" stroke="#1a1a1a" stroke-width="0.7"/>
<line x1="353.4" y1="595.3" x2="353.4" y2="597.5" stroke="#222" stroke-width="1"/>
<text stroke="#3a3a3a" stroke-width="0.08" x="353.4" y="606" font-size="6" text-anchor="middle" fill="#3a3a3a">4</text>
<rect x="355.75" y="567.2" width="3" height="28.1" fill="#32a034"/>
<line x1="357.25" y1="574.59" x2="357.25" y2="559.8" stroke="#2a2a2a" stroke-width="0.7"/>
<line x1="356.45" y1="559.8" x2="358.05" y2="559.8" stroke="#1a1a1a" stroke-width="0.6"/>
<circle cx="357.25" cy="560.2" r="0.9" fill="#111"/>
<circle cx="357.25" cy="572.38" r="0.9" fill="#111"/>
<circle cx="357.25" cy="565.72" r="0.9" fill="#111"/>
<line x1="355.9" y1="567.55" x2="358.6" y2="567.55" stroke="#1a1a1a" stroke-width="0.7"/>
<line x1="357.25" y1="595.3" x2="357.25" y2="597.5" stroke="#222" stroke-width="1"/>
<text stroke="#3a3a3a" stroke-width="0.08" x="357.25" y="606" font-size="6" text-anchor="middle" fill="#3a3a3a">5</text>
<text stroke="#333" stroke-width="0.22" x="297" y="508.5" font-size="8.2" fill="#333" textLength="24.5" lengthAdjust="spacingAndGlyphs">U2932</text>
<line x1="306" y1="522.7" x2="356.7" y2="522.7" stroke="#6a6a6a" stroke-width="1.1"/>
<text stroke="#4a4a4a" stroke-width="0.22" x="317.9" y="521.2" font-size="5.9" fill="#4a4a4a" textLength="27.6" lengthAdjust="spacingAndGlyphs"><tspan font-style="italic">P</tspan> = .0018</text>
<text stroke="#2a2a2a" stroke-width="0.3" x="298" y="617" font-size="8" fill="#2a2a2a" textLength="20.9" lengthAdjust="spacingAndGlyphs">Time [d]</text>
<text stroke="#2a2a2a" stroke-width="0.3" transform="translate(239.74,555) rotate(-90)" font-size="7.6" text-anchor="middle" fill="#2a2a2a" textLength="53" lengthAdjust="spacingAndGlyphs">Normalized cell count</text>
<rect x="365.2" y="537.1" width="5.6" height="5.6" fill="#173f6e"/>
<text stroke="#3a3a3a" stroke-width="0.14" x="374.2" y="542.28" font-size="6.6" fill="#3a3a3a" textLength="19" lengthAdjust="spacingAndGlyphs">Solvent</text>
<rect x="365.2" y="546.8" width="5.6" height="5.6" fill="#b8072a"/>
<text stroke="#3a3a3a" stroke-width="0.14" x="374.2" y="551.98" font-size="6.6" fill="#3a3a3a" textLength="21" lengthAdjust="spacingAndGlyphs">CB-839</text>
<rect x="365.2" y="556.8" width="5.6" height="5.6" fill="#ee9418"/>
<text stroke="#3a3a3a" stroke-width="0.14" x="374.2" y="561.98" font-size="6.6" fill="#3a3a3a" textLength="33" lengthAdjust="spacingAndGlyphs">&#945;-tocopherol</text>
<rect x="365.2" y="566.4" width="5.6" height="5.6" fill="#32a034"/>
<text stroke="#3a3a3a" stroke-width="0.14" x="374.2" y="571.58" font-size="6.6" fill="#3a3a3a" textLength="62" lengthAdjust="spacingAndGlyphs">CB-839 + &#945;-tocopherol</text>
<rect x="0.5" y="0.5" width="519" height="625" fill="none" stroke="#5c5c5c" stroke-width="1"/>
</svg>
</body></html>
